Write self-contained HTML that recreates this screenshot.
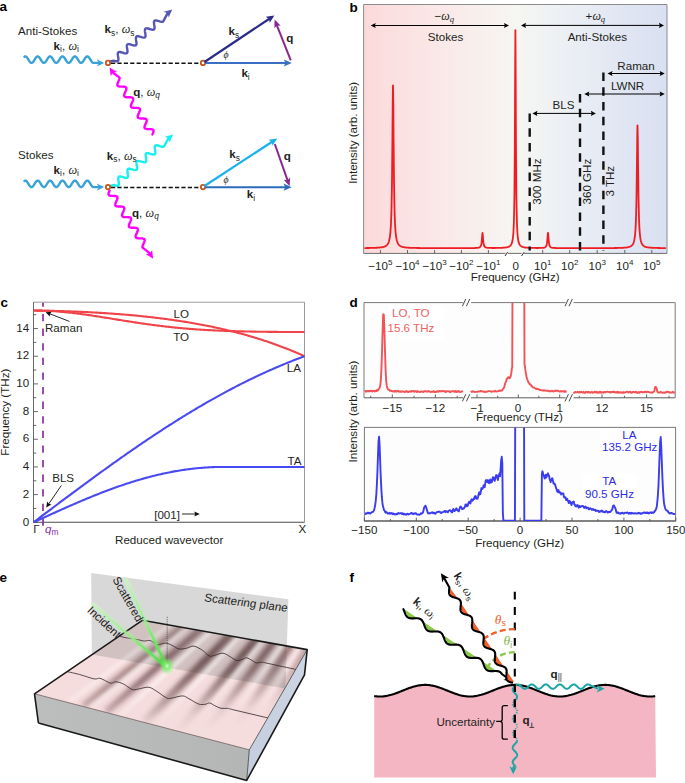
<!DOCTYPE html>
<html><head><meta charset="utf-8"><style>html,body{margin:0;padding:0;background:#fff;}svg{display:block;}</style></head>
<body><svg width="685" height="783" viewBox="0 0 685 783">
<text x="-0.6" y="11.3" font-family="Liberation Sans, sans-serif" font-size="13.5" text-anchor="start" font-weight="bold" font-style="normal" fill="#000" >a</text>
<text x="18" y="34.7" font-family="Liberation Sans, sans-serif" font-size="11.6" text-anchor="start" font-weight="normal" font-style="normal" fill="#231f20" >Anti-Stokes</text>
<path d="M24.4,56.73 L24.8,56.5 L25.2,56.4 L25.6,56.44 L26,56.6 L26.4,56.89 L26.8,57.29 L27.2,57.79 L27.6,58.37 L28,59 L28.4,59.65 L28.8,60.3 L29.2,60.93 L29.6,61.51 L30,62.01 L30.4,62.41 L30.8,62.7 L31.2,62.86 L31.6,62.9 L32,62.8 L32.4,62.57 L32.8,62.22 L33.2,61.77 L33.6,61.23 L34,60.62 L34.4,59.98 L34.8,59.32 L35.2,58.68 L35.6,58.07 L36,57.53 L36.4,57.08 L36.8,56.73 L37.2,56.5 L37.6,56.4 L38,56.44 L38.4,56.6 L38.8,56.89 L39.2,57.29 L39.6,57.79 L40,58.37 L40.4,59 L40.8,59.65 L41.2,60.3 L41.6,60.93 L42,61.51 L42.4,62.01 L42.8,62.41 L43.2,62.7 L43.6,62.86 L44,62.9 L44.4,62.8 L44.8,62.57 L45.2,62.22 L45.6,61.77 L46,61.23 L46.4,60.62 L46.8,59.98 L47.2,59.32 L47.6,58.68 L48,58.07 L48.4,57.53 L48.8,57.08 L49.2,56.73 L49.6,56.5 L50,56.4 L50.4,56.44 L50.8,56.6 L51.2,56.89 L51.6,57.29 L52,57.79 L52.4,58.37 L52.8,59 L53.2,59.65 L53.6,60.3 L54,60.93 L54.4,61.51 L54.8,62.01 L55.2,62.41 L55.6,62.7 L56,62.86 L56.4,62.9 L56.8,62.8 L57.2,62.57 L57.6,62.22 L58,61.77 L58.4,61.23 L58.8,60.62 L59.2,59.98 L59.6,59.32 L60,58.68 L60.4,58.07 L60.8,57.53 L61.2,57.08 L61.6,56.73 L62,56.5 L62.4,56.4 L62.8,56.44 L63.2,56.6 L63.6,56.89 L64,57.29 L64.4,57.79 L64.8,58.37 L65.2,59 L65.6,59.65 L66,60.3 L66.4,60.93 L66.8,61.51 L67.2,62.01 L67.6,62.41 L68,62.7 L68.4,62.86 L68.8,62.9 L69.2,62.8 L69.6,62.57 L70,62.22 L70.4,61.77 L70.8,61.23 L71.2,60.62 L71.6,59.98 L72,59.32 L72.4,58.68 L72.8,58.07 L73.2,57.53 L73.6,57.08 L74,56.73 L74.4,56.5 L74.8,56.4 L75.2,56.44 L75.6,56.6 L76,56.89 L76.4,57.29 L76.8,57.79 L77.2,58.37 L77.6,59 L78,59.65 L78.4,60.3 L78.8,60.93 L79.2,61.51 L79.6,62.01 L80,62.41 L80.4,62.7 L80.8,62.86 L81.2,62.9 L81.6,62.8 L82,62.57 L82.4,62.22 L82.8,61.77 L83.2,61.23 L83.6,60.62 L84,59.98 L84.4,59.32 L84.8,58.68 L85.2,58.07 L85.6,57.53 L86,57.08 L86.4,56.73 L86.8,56.5 L87.2,56.4 L87.6,56.44 L88,56.6 L88.4,56.89 L88.8,57.29 L89.2,57.79 L89.6,58.37 L90,59 L90.4,59.65 L90.8,60.3 L91.2,60.93 L91.6,61.51 L92,62.01 L92.4,62.41 L92.8,62.7 L93.2,62.86 L98.5,62.9" fill="none" stroke="#39a2d6" stroke-width="2.4" stroke-linejoin="round" stroke-linecap="round"/>
<path d="M104.2,62.9 L96.7,66.6 L98.95,62.9 L96.7,59.2 Z" fill="#39a2d6"/>
<text x="53.6" y="50" font-family="Liberation Sans, sans-serif" font-size="11.6" fill="#231f20"><tspan font-weight="bold">k</tspan><tspan font-size="8.4" dy="2.2">i</tspan><tspan dy="-2.2">, </tspan><tspan font-family="Liberation Serif, serif" font-style="italic" font-size="12.18">ω</tspan><tspan font-size="8.352" dy="2.2">i</tspan></text>
<path d="M110.4,61.4 L113.6,60.6 L114.5,60.88 L115.37,61.11 L116.17,61.26 L116.87,61.31 L117.45,61.21 L117.9,60.96 L118.21,60.55 L118.38,59.99 L118.43,59.29 L118.39,58.48 L118.27,57.59 L118.12,56.65 L117.97,55.72 L117.85,54.83 L117.81,54.01 L117.86,53.31 L118.03,52.75 L118.34,52.34 L118.78,52.09 L119.36,52 L120.06,52.04 L120.86,52.2 L121.73,52.43 L122.64,52.7 L123.54,52.98 L124.41,53.21 L125.21,53.37 L125.91,53.41 L126.49,53.31 L126.94,53.07 L127.24,52.66 L127.42,52.09 L127.47,51.39 L127.42,50.58 L127.31,49.69 L127.15,48.76 L127,47.82 L126.89,46.93 L126.84,46.12 L126.89,45.42 L127.07,44.86 L127.37,44.45 L127.82,44.2 L128.4,44.1 L129.1,44.15 L129.9,44.3 L130.77,44.53 L131.67,44.81 L132.58,45.08 L133.45,45.32 L134.25,45.47 L134.95,45.51 L135.53,45.42 L135.97,45.17 L136.28,44.76 L136.45,44.2 L136.5,43.5 L136.46,42.69 L136.34,41.79 L136.19,40.86 L136.04,39.93 L135.92,39.04 L135.88,38.22 L135.93,37.52 L136.1,36.96 L136.41,36.55 L136.86,36.3 L137.44,36.21 L138.14,36.25 L138.94,36.4 L139.81,36.64 L140.71,36.91 L141.61,37.19 L142.48,37.42 L143.28,37.58 L143.98,37.62 L144.56,37.52 L145.01,37.27 L145.32,36.87 L145.49,36.3 L145.54,35.6 L145.5,34.79 L145.38,33.9 L145.23,32.97 L145.08,32.03 L144.96,31.14 L144.92,30.33 L144.97,29.63 L145.14,29.07 L145.45,28.66 L145.89,28.41 L146.47,28.31 L147.17,28.35 L147.97,28.51 L148.84,28.74 L149.75,29.02 L150.65,29.29 L151.52,29.53 L152.32,29.68 L153.02,29.72 L153.6,29.63 L154.05,29.38 L154.35,28.97 L154.53,28.41 L154.58,27.71 L154.53,26.9 L154.42,26 L154.26,25.07 L154.11,24.14 L154,23.25 L153.95,22.43 L154,21.73 L154.18,21.17 L154.48,20.76 L154.93,20.51 L155.51,20.42 L156.21,20.46 L157.01,20.61 L157.88,20.85 L158.78,21.12 L159.69,21.4 L160.56,21.63 L161.36,21.79 L162.06,21.83 L162.64,21.73 L163.08,21.48 L163.39,21.07 L167.38,13.61" fill="none" stroke="#5656b4" stroke-width="2.4" stroke-linejoin="round" stroke-linecap="round"/><path d="M172.2,9.4 L168.68,17.53 L167.68,13.35 L163.68,11.8 Z" fill="#5656b4"/>
<text x="104.6" y="33.4" font-family="Liberation Sans, sans-serif" font-size="11.6" fill="#231f20"><tspan font-weight="bold">k</tspan><tspan font-size="8.4" dy="2.2">s</tspan><tspan dy="-2.2">, </tspan><tspan font-family="Liberation Serif, serif" font-style="italic" font-size="12.18">ω</tspan><tspan font-size="8.352" dy="2.2">s</tspan></text>
<path d="M152.4,134.4 L152.78,133.57 L153.11,132.76 L153.37,132 L153.52,131.31 L153.53,130.71 L153.39,130.21 L153.09,129.81 L152.63,129.51 L152.02,129.3 L151.29,129.18 L150.45,129.12 L149.56,129.09 L148.64,129.09 L147.74,129.07 L146.89,129.02 L146.13,128.91 L145.5,128.72 L145.01,128.44 L144.67,128.06 L144.5,127.58 L144.48,127 L144.61,126.32 L144.85,125.58 L145.17,124.78 L145.54,123.95 L145.92,123.11 L146.27,122.3 L146.54,121.53 L146.72,120.83 L146.76,120.21 L146.65,119.68 L146.38,119.26 L145.95,118.94 L145.37,118.72 L144.66,118.58 L143.84,118.51 L142.96,118.48 L142.04,118.47 L141.13,118.46 L140.27,118.42 L139.49,118.32 L138.83,118.15 L138.31,117.89 L137.94,117.53 L137.74,117.07 L137.69,116.5 L137.79,115.85 L138.01,115.11 L138.32,114.32 L138.68,113.5 L139.06,112.66 L139.42,111.84 L139.71,111.06 L139.91,110.34 L139.98,109.7 L139.9,109.16 L139.66,108.72 L139.26,108.38 L138.71,108.14 L138.03,107.98 L137.23,107.9 L136.36,107.86 L135.44,107.85 L134.53,107.84 L133.65,107.81 L132.86,107.73 L132.17,107.57 L131.62,107.33 L131.22,106.99 L130.99,106.55 L130.91,106 L130.98,105.37 L131.17,104.65 L131.47,103.87 L131.82,103.05 L132.2,102.21 L132.57,101.38 L132.88,100.59 L133.09,99.86 L133.19,99.21 L133.14,98.64 L132.94,98.18 L132.57,97.82 L132.05,97.56 L131.39,97.39 L130.61,97.29 L129.75,97.25 L128.84,97.24 L127.93,97.23 L127.04,97.2 L126.23,97.13 L125.52,96.99 L124.94,96.77 L124.51,96.45 L124.24,96.03 L124.13,95.5 L124.17,94.88 L124.34,94.18 L124.62,93.41 L124.97,92.59 L125.34,91.76 L125.71,90.93 L126.04,90.13 L126.28,89.38 L126.4,88.71 L126.38,88.13 L126.21,87.65 L125.88,87.27 L125.39,86.99 L124.75,86.8 L123.99,86.69 L123.15,86.64 L122.24,86.62 L121.33,86.61 L120.43,86.59 L119.6,86.53 L118.86,86.41 L118.26,86.2 L117.8,85.9 L117.49,85.5 L117.35,85 L117.37,84.4 L117.52,83.71 L117.77,82.95 L118.11,82.14 L118.48,81.31 L118.86,80.47 L119.2,79.67 L119.45,78.91 L119.6,78.22 L119.62,77.62 L113.05,72.79" fill="none" stroke="#ff00ff" stroke-width="2.4" stroke-linejoin="round" stroke-linecap="round"/><path d="M109.6,67.4 L117.11,72.1 L112.83,72.46 L110.7,76.19 Z" fill="#ff00ff"/>
<text x="133.2" y="95.6" font-family="Liberation Sans, sans-serif" font-size="11.6" fill="#231f20"><tspan font-weight="bold">q</tspan><tspan>, </tspan><tspan font-family="Liberation Serif, serif" font-style="italic" font-size="12.18">ω</tspan><tspan font-size="8.352" dy="2.2"><tspan font-style='italic'>q</tspan></tspan></text>
<line x1="111" y1="63.3" x2="200" y2="63.3" stroke="#111" stroke-width="1.5" stroke-dasharray="4.2,2.2"/>
<circle cx="108.0" cy="62.9" r="2.2" fill="#fff" stroke="#c4561a" stroke-width="1.8"/>
<circle cx="203.0" cy="62.9" r="2.2" fill="#fff" stroke="#c4561a" stroke-width="1.8"/>
<text x="18" y="158.8" font-family="Liberation Sans, sans-serif" font-size="11.6" text-anchor="start" font-weight="normal" font-style="normal" fill="#231f20" >Stokes</text>
<path d="M24.4,180.93 L24.8,180.7 L25.2,180.6 L25.6,180.64 L26,180.8 L26.4,181.09 L26.8,181.49 L27.2,181.99 L27.6,182.57 L28,183.2 L28.4,183.85 L28.8,184.5 L29.2,185.13 L29.6,185.71 L30,186.21 L30.4,186.61 L30.8,186.9 L31.2,187.06 L31.6,187.1 L32,187 L32.4,186.77 L32.8,186.42 L33.2,185.97 L33.6,185.43 L34,184.82 L34.4,184.18 L34.8,183.52 L35.2,182.88 L35.6,182.27 L36,181.73 L36.4,181.28 L36.8,180.93 L37.2,180.7 L37.6,180.6 L38,180.64 L38.4,180.8 L38.8,181.09 L39.2,181.49 L39.6,181.99 L40,182.57 L40.4,183.2 L40.8,183.85 L41.2,184.5 L41.6,185.13 L42,185.71 L42.4,186.21 L42.8,186.61 L43.2,186.9 L43.6,187.06 L44,187.1 L44.4,187 L44.8,186.77 L45.2,186.42 L45.6,185.97 L46,185.43 L46.4,184.82 L46.8,184.18 L47.2,183.52 L47.6,182.88 L48,182.27 L48.4,181.73 L48.8,181.28 L49.2,180.93 L49.6,180.7 L50,180.6 L50.4,180.64 L50.8,180.8 L51.2,181.09 L51.6,181.49 L52,181.99 L52.4,182.57 L52.8,183.2 L53.2,183.85 L53.6,184.5 L54,185.13 L54.4,185.71 L54.8,186.21 L55.2,186.61 L55.6,186.9 L56,187.06 L56.4,187.1 L56.8,187 L57.2,186.77 L57.6,186.42 L58,185.97 L58.4,185.43 L58.8,184.82 L59.2,184.18 L59.6,183.52 L60,182.88 L60.4,182.27 L60.8,181.73 L61.2,181.28 L61.6,180.93 L62,180.7 L62.4,180.6 L62.8,180.64 L63.2,180.8 L63.6,181.09 L64,181.49 L64.4,181.99 L64.8,182.57 L65.2,183.2 L65.6,183.85 L66,184.5 L66.4,185.13 L66.8,185.71 L67.2,186.21 L67.6,186.61 L68,186.9 L68.4,187.06 L68.8,187.1 L69.2,187 L69.6,186.77 L70,186.42 L70.4,185.97 L70.8,185.43 L71.2,184.82 L71.6,184.18 L72,183.52 L72.4,182.88 L72.8,182.27 L73.2,181.73 L73.6,181.28 L74,180.93 L74.4,180.7 L74.8,180.6 L75.2,180.64 L75.6,180.8 L76,181.09 L76.4,181.49 L76.8,181.99 L77.2,182.57 L77.6,183.2 L78,183.85 L78.4,184.5 L78.8,185.13 L79.2,185.71 L79.6,186.21 L80,186.61 L80.4,186.9 L80.8,187.06 L81.2,187.1 L81.6,187 L82,186.77 L82.4,186.42 L82.8,185.97 L83.2,185.43 L83.6,184.82 L84,184.18 L84.4,183.52 L84.8,182.88 L85.2,182.27 L85.6,181.73 L86,181.28 L86.4,180.93 L86.8,180.7 L87.2,180.6 L87.6,180.64 L88,180.8 L88.4,181.09 L88.8,181.49 L89.2,181.99 L89.6,182.57 L90,183.2 L90.4,183.85 L90.8,184.5 L91.2,185.13 L91.6,185.71 L92,186.21 L92.4,186.61 L92.8,186.9 L93.2,187.06 L98.5,187.1" fill="none" stroke="#39a2d6" stroke-width="2.4" stroke-linejoin="round" stroke-linecap="round"/>
<path d="M104.2,187.1 L96.7,190.8 L98.95,187.1 L96.7,183.4 Z" fill="#39a2d6"/>
<text x="53.6" y="174.2" font-family="Liberation Sans, sans-serif" font-size="11.6" fill="#231f20"><tspan font-weight="bold">k</tspan><tspan font-size="8.4" dy="2.2">i</tspan><tspan dy="-2.2">, </tspan><tspan font-family="Liberation Serif, serif" font-style="italic" font-size="12.18">ω</tspan><tspan font-size="8.352" dy="2.2">i</tspan></text>
<path d="M110.4,185.8 L114,185 L114.9,185.29 L115.77,185.53 L116.56,185.69 L117.26,185.74 L117.85,185.65 L118.29,185.41 L118.61,185 L118.78,184.44 L118.84,183.74 L118.81,182.93 L118.7,182.04 L118.56,181.1 L118.42,180.17 L118.31,179.27 L118.28,178.46 L118.34,177.76 L118.52,177.2 L118.83,176.8 L119.28,176.55 L119.86,176.46 L120.56,176.51 L121.35,176.67 L122.22,176.92 L123.12,177.2 L124.02,177.49 L124.89,177.73 L125.69,177.89 L126.39,177.94 L126.97,177.86 L127.42,177.61 L127.73,177.21 L127.91,176.65 L127.97,175.95 L127.93,175.13 L127.82,174.24 L127.68,173.3 L127.54,172.37 L127.44,171.48 L127.4,170.66 L127.46,169.96 L127.64,169.4 L127.95,169 L128.4,168.75 L128.98,168.67 L129.68,168.71 L130.48,168.88 L131.34,169.12 L132.24,169.41 L133.15,169.69 L134.01,169.93 L134.81,170.1 L135.51,170.15 L136.09,170.06 L136.54,169.81 L136.85,169.41 L137.03,168.85 L137.09,168.15 L137.05,167.34 L136.95,166.44 L136.8,165.51 L136.66,164.57 L136.56,163.68 L136.52,162.87 L136.58,162.17 L136.76,161.61 L137.07,161.2 L137.52,160.96 L138.1,160.87 L138.8,160.92 L139.6,161.08 L140.46,161.32 L141.37,161.61 L142.27,161.89 L143.13,162.14 L143.93,162.3 L144.63,162.35 L145.21,162.26 L145.66,162.02 L145.97,161.61 L146.15,161.05 L146.21,160.35 L146.17,159.54 L146.07,158.65 L145.93,157.71 L145.79,156.78 L145.68,155.88 L145.64,155.07 L145.7,154.37 L145.88,153.81 L146.19,153.41 L146.64,153.16 L147.22,153.07 L147.92,153.12 L148.72,153.28 L149.59,153.53 L150.49,153.81 L151.39,154.1 L152.26,154.34 L153.05,154.5 L153.75,154.55 L154.33,154.46 L154.78,154.22 L155.09,153.81 L155.27,153.25 L155.33,152.56 L155.3,151.74 L155.19,150.85 L155.05,149.91 L154.91,148.98 L154.8,148.09 L154.76,147.27 L154.82,146.57 L155,146.01 L155.32,145.61 L155.76,145.36 L156.35,145.27 L157.05,145.32 L157.84,145.49 L158.71,145.73 L159.61,146.02 L160.51,146.3 L161.38,146.54 L162.17,146.71 L162.87,146.76 L163.46,146.67 L163.9,146.42 L164.22,146.02 L168.33,138.56" fill="none" stroke="#18f0f0" stroke-width="2.4" stroke-linejoin="round" stroke-linecap="round"/><path d="M173.2,134.4 L169.59,142.49 L168.64,138.3 L164.65,136.71 Z" fill="#18f0f0"/>
<text x="106.8" y="160.2" font-family="Liberation Sans, sans-serif" font-size="11.6" fill="#231f20"><tspan font-weight="bold">k</tspan><tspan font-size="8.4" dy="2.2">s</tspan><tspan dy="-2.2">, </tspan><tspan font-family="Liberation Serif, serif" font-style="italic" font-size="12.18">ω</tspan><tspan font-size="8.352" dy="2.2">s</tspan></text>
<path d="M109.6,190.6 L109.22,191.43 L108.89,192.24 L108.63,193 L108.48,193.69 L108.47,194.29 L108.61,194.79 L108.91,195.19 L109.37,195.49 L109.98,195.7 L110.72,195.82 L111.55,195.88 L112.44,195.9 L113.36,195.91 L114.26,195.93 L115.11,195.98 L115.87,196.09 L116.5,196.28 L116.99,196.55 L117.33,196.93 L117.5,197.42 L117.52,198 L117.39,198.67 L117.16,199.42 L116.83,200.22 L116.46,201.05 L116.08,201.88 L115.74,202.7 L115.46,203.47 L115.29,204.17 L115.25,204.79 L115.36,205.32 L115.63,205.74 L116.06,206.06 L116.64,206.28 L117.35,206.42 L118.16,206.49 L119.05,206.52 L119.96,206.53 L120.87,206.54 L121.73,206.58 L122.51,206.68 L123.17,206.85 L123.69,207.11 L124.06,207.47 L124.27,207.93 L124.31,208.49 L124.22,209.15 L124,209.88 L123.69,210.67 L123.33,211.5 L122.95,212.33 L122.59,213.15 L122.3,213.94 L122.1,214.65 L122.03,215.29 L122.11,215.84 L122.35,216.28 L122.74,216.62 L123.3,216.86 L123.98,217.01 L124.78,217.1 L125.65,217.13 L126.57,217.14 L127.48,217.15 L128.35,217.18 L129.15,217.27 L129.84,217.42 L130.39,217.66 L130.79,218 L131.02,218.44 L131.1,218.99 L131.03,219.63 L130.84,220.34 L130.54,221.13 L130.19,221.95 L129.81,222.78 L129.44,223.61 L129.14,224.4 L128.92,225.13 L128.82,225.79 L128.87,226.35 L129.07,226.81 L129.44,227.17 L129.96,227.43 L130.62,227.6 L131.4,227.7 L132.26,227.74 L133.17,227.76 L134.09,227.76 L134.97,227.79 L135.79,227.86 L136.5,228 L137.08,228.22 L137.51,228.54 L137.78,228.96 L137.89,229.49 L137.84,230.11 L137.67,230.81 L137.4,231.58 L137.05,232.4 L136.67,233.23 L136.3,234.06 L135.98,234.86 L135.74,235.61 L135.62,236.28 L135.63,236.86 L135.81,237.35 L136.14,237.73 L136.63,238 L137.27,238.19 L138.02,238.3 L138.87,238.35 L139.77,238.37 L140.69,238.38 L141.59,238.4 L142.42,238.46 L143.15,238.58 L143.76,238.79 L144.22,239.09 L144.52,239.49 L144.66,239.99 L144.65,240.59 L144.5,241.28 L144.24,242.04 L143.91,242.85 L143.53,243.68 L143.16,244.51 L142.82,245.32 L142.57,246.08 L142.42,246.77 L142.4,247.37 L149.75,253.41" fill="none" stroke="#ff00ff" stroke-width="2.4" stroke-linejoin="round" stroke-linecap="round"/><path d="M153.2,258.8 L145.69,254.11 L149.97,253.74 L152.09,250.01 Z" fill="#ff00ff"/>
<text x="132.0" y="216.8" font-family="Liberation Sans, sans-serif" font-size="11.6" fill="#231f20"><tspan font-weight="bold">q</tspan><tspan>, </tspan><tspan font-family="Liberation Serif, serif" font-style="italic" font-size="12.18">ω</tspan><tspan font-size="8.352" dy="2.2"><tspan font-style='italic'>q</tspan></tspan></text>
<line x1="111" y1="187.5" x2="200" y2="187.5" stroke="#111" stroke-width="1.5" stroke-dasharray="4.2,2.2"/>
<circle cx="108.0" cy="187.1" r="2.2" fill="#fff" stroke="#c4561a" stroke-width="1.8"/>
<circle cx="203.0" cy="187.1" r="2.2" fill="#fff" stroke="#c4561a" stroke-width="1.8"/>
<line x1="205" y1="63" x2="286.2" y2="63" stroke="#3b6fc6" stroke-width="2.0"/><path d="M291.8,63 L283.8,66.6 L285.4,63 L283.8,59.4 Z" fill="#3b6fc6"/>
<line x1="204.5" y1="62" x2="269.74" y2="18.51" stroke="#2b2b8a" stroke-width="2.2"/><path d="M274.4,15.4 L269.74,22.83 L269.07,18.95 L265.75,16.84 Z" fill="#2b2b8a"/>
<line x1="290.8" y1="60.4" x2="276.67" y2="24.8" stroke="#8a288e" stroke-width="2.0"/><path d="M274.6,19.6 L280.71,25.78 L276.96,25.55 L274.39,28.29 Z" fill="#8a288e"/>
<text x="228.6" y="35" font-family="Liberation Sans, sans-serif" font-size="11.6" fill="#231f20"><tspan font-weight="bold">k</tspan><tspan font-size="8.4" dy="2.6">s</tspan></text>
<text x="241.4" y="77" font-family="Liberation Sans, sans-serif" font-size="11.6" fill="#231f20"><tspan font-weight="bold">k</tspan><tspan font-size="8.4" dy="2.6">i</tspan></text>
<text x="286.2" y="41.9" font-family="Liberation Sans, sans-serif" font-size="11.6" text-anchor="start" font-weight="bold" font-style="normal" fill="#231f20" >q</text>
<text x="223.4" y="58.4" font-family="Liberation Serif, serif" font-size="9.8" text-anchor="start" font-weight="normal" font-style="italic" fill="#231f20" >ϕ</text>
<line x1="205" y1="187.2" x2="286" y2="187.2" stroke="#2a6cbc" stroke-width="2.0"/><path d="M291.6,187.2 L283.6,190.8 L285.2,187.2 L283.6,183.6 Z" fill="#2a6cbc"/>
<line x1="204.5" y1="186" x2="272.51" y2="141.47" stroke="#18b0ee" stroke-width="2.2"/><path d="M277.2,138.4 L272.48,145.79 L271.85,141.91 L268.54,139.77 Z" fill="#18b0ee"/>
<line x1="274.8" y1="144" x2="287.75" y2="180.92" stroke="#8a288e" stroke-width="2.0"/><path d="M289.6,186.2 L283.74,179.78 L287.48,180.16 L290.16,177.53 Z" fill="#8a288e"/>
<text x="229.2" y="158.2" font-family="Liberation Sans, sans-serif" font-size="11.6" fill="#231f20"><tspan font-weight="bold">k</tspan><tspan font-size="8.4" dy="2.6">s</tspan></text>
<text x="246.8" y="198.4" font-family="Liberation Sans, sans-serif" font-size="11.6" fill="#231f20"><tspan font-weight="bold">k</tspan><tspan font-size="8.4" dy="2.6">i</tspan></text>
<text x="283.8" y="159.8" font-family="Liberation Sans, sans-serif" font-size="11.6" text-anchor="start" font-weight="bold" font-style="normal" fill="#231f20" >q</text>
<text x="223.4" y="182.6" font-family="Liberation Serif, serif" font-size="9.8" text-anchor="start" font-weight="normal" font-style="italic" fill="#231f20" >ϕ</text>
<text x="349.4" y="11.8" font-family="Liberation Sans, sans-serif" font-size="13.5" text-anchor="start" font-weight="bold" font-style="normal" fill="#000" >b</text>
<defs><linearGradient id="gb" x1="0" y1="0" x2="1" y2="0"><stop offset="0" stop-color="#fcd9da"/><stop offset="0.1" stop-color="#fbe0e0"/><stop offset="0.3" stop-color="#f9ebea"/><stop offset="0.5" stop-color="#f6f6f2"/><stop offset="0.7" stop-color="#eaeef4"/><stop offset="0.85" stop-color="#e1e6f3"/><stop offset="1" stop-color="#d9e0f1"/></linearGradient></defs>
<rect x="363.6" y="4.5" width="303.4" height="248.9" fill="url(#gb)"/>
<path d="M364.4,248.05 L364.9,248.05 L365.4,248.04 L365.9,248.04 L366.4,248.03 L366.9,248.02 L367.4,248.02 L367.9,248.01 L368.4,248 L368.9,247.99 L369.4,247.98 L369.9,247.97 L370.4,247.96 L370.9,247.95 L371.4,247.94 L371.9,247.93 L372.4,247.92 L372.9,247.9 L373.4,247.89 L373.9,247.87 L374.4,247.86 L374.9,247.84 L375.4,247.82 L375.9,247.79 L376.4,247.77 L376.9,247.74 L377.4,247.71 L377.9,247.68 L378.4,247.64 L378.9,247.6 L379.4,247.56 L379.9,247.51 L380.4,247.46 L380.9,247.39 L381.4,247.32 L381.9,247.24 L382.4,247.15 L382.9,247.05 L383.4,246.93 L383.9,246.79 L384.4,246.62 L384.9,246.42 L385.4,246.18 L385.9,245.89 L386.4,245.54 L386.9,245.09 L387.4,244.53 L387.9,243.79 L388.4,242.82 L388.9,241.48 L389.4,239.6 L389.9,236.81 L390,236.1 L390.4,232.47 L390.9,225.28 L391,223.29 L391.4,212.36 L391.5,208.62 L391.9,187.33 L392,179.91 L392.4,139.53 L392.7,103.43 L392.9,87.62 L393,85.39 L393.3,103.43 L393.4,114.91 L393.6,139.53 L393.9,171.44 L394,179.91 L394.4,204.34 L394.5,208.62 L394.9,221.04 L395,223.29 L395.4,230.05 L395.9,235.31 L396,236.09 L396.4,238.62 L396.9,240.81 L397.4,242.34 L397.9,243.44 L398.4,244.26 L398.9,244.88 L399.4,245.37 L399.9,245.76 L400.4,246.07 L400.9,246.33 L401.4,246.54 L401.9,246.72 L402.4,246.87 L402.9,247 L403.4,247.11 L403.9,247.21 L404.4,247.29 L404.9,247.36 L405.4,247.43 L405.9,247.49 L406.4,247.54 L406.9,247.58 L407.4,247.63 L407.9,247.66 L408.4,247.7 L408.9,247.73 L409.4,247.75 L409.9,247.78 L410.4,247.8 L410.9,247.82 L411.4,247.84 L411.9,247.86 L412.4,247.88 L412.9,247.89 L413.4,247.91 L413.9,247.92 L414.4,247.93 L414.9,247.94 L415.4,247.96 L415.9,247.97 L416.4,247.97 L416.9,247.98 L417.4,247.99 L417.9,248 L418.4,248.01 L418.9,248.01 L419.4,248.02 L419.9,248.03 L420.4,248.03 L420.9,248.04 L421.4,248.04 L421.9,248.05 L422.4,248.05 L422.9,248.06 L423.4,248.06 L423.9,248.06 L424.4,248.07 L424.9,248.07 L425.4,248.08 L425.9,248.08 L426.4,248.08 L426.9,248.08 L427.4,248.09 L427.9,248.09 L428.4,248.09 L428.9,248.09 L429.4,248.1 L429.9,248.1 L430.4,248.1 L430.9,248.1 L431.4,248.11 L431.9,248.11 L432.4,248.11 L432.9,248.11 L433.4,248.11 L433.9,248.11 L434.4,248.12 L434.9,248.12 L435.4,248.12 L435.9,248.12 L436.4,248.12 L436.9,248.12 L437.4,248.12 L437.9,248.12 L438.4,248.13 L438.9,248.13 L439.4,248.13 L439.9,248.13 L440.4,248.13 L440.9,248.13 L441.4,248.13 L441.9,248.13 L442.4,248.13 L442.9,248.13 L443.4,248.13 L443.9,248.13 L444.4,248.13 L444.9,248.13 L445.4,248.14 L445.9,248.14 L446.4,248.14 L446.9,248.14 L447.4,248.14 L447.9,248.14 L448.4,248.14 L448.9,248.14 L449.4,248.14 L449.9,248.14 L450.4,248.14 L450.9,248.14 L451.4,248.14 L451.9,248.14 L452.4,248.14 L452.9,248.14 L453.4,248.14 L453.9,248.14 L454.4,248.14 L454.9,248.14 L455.4,248.14 L455.9,248.14 L456.4,248.14 L456.9,248.14 L457.4,248.14 L457.9,248.14 L458.4,248.14 L458.9,248.14 L459.4,248.13 L459.9,248.13 L460.4,248.13 L460.9,248.13 L461.4,248.13 L461.9,248.13 L462.4,248.13 L462.9,248.13 L463.4,248.13 L463.9,248.13 L464.4,248.12 L464.9,248.12 L465.4,248.12 L465.9,248.12 L466.4,248.12 L466.9,248.12 L467.4,248.11 L467.9,248.11 L468.4,248.11 L468.9,248.1 L469.4,248.1 L469.9,248.1 L470.4,248.09 L470.9,248.09 L471.4,248.08 L471.9,248.08 L472.4,248.07 L472.9,248.06 L473.4,248.05 L473.9,248.04 L474.4,248.03 L474.9,248.01 L475.4,247.99 L475.9,247.97 L476.4,247.94 L476.9,247.9 L477.4,247.85 L477.9,247.79 L478.4,247.7 L478.9,247.58 L479.4,247.39 L479.5,247.34 L479.9,247.1 L480.4,246.61 L480.5,246.47 L480.9,245.68 L481,245.41 L481.4,243.74 L481.5,243.12 L481.9,239.36 L482.2,235.28 L482.4,233.22 L482.5,232.92 L482.8,235.28 L482.9,236.66 L483.1,239.35 L483.4,242.39 L483.5,243.12 L483.9,245.07 L484,245.4 L484.4,246.3 L484.5,246.45 L484.9,246.92 L485.4,247.27 L485.5,247.32 L485.9,247.49 L486.4,247.63 L486.9,247.72 L487.4,247.79 L487.9,247.84 L488.4,247.88 L488.9,247.91 L489.4,247.93 L489.9,247.95 L490.4,247.96 L490.9,247.97 L491.4,247.97 L491.9,247.98 L492.4,247.98 L492.9,247.98 L493.4,247.98 L493.9,247.98 L494.4,247.98 L494.9,247.98 L495.4,247.97 L495.9,247.97 L496.4,247.96 L496.9,247.95 L497.4,247.94 L497.9,247.94 L498.4,247.92 L498.9,247.91 L499.4,247.9 L499.9,247.88 L500.4,247.87 L500.9,247.85 L501.4,247.82 L501.9,247.8 L502.4,247.77 L502.9,247.74 L503.4,247.71 L503.9,247.67 L504.4,247.62 L504.9,247.57 L505.4,247.51 L505.9,247.44 L506.4,247.36 L506.9,247.26 L507.4,247.14 L507.9,247 L508.4,246.83 L508.9,246.62 L509.4,246.35 L509.9,246.01 L510.4,245.56 L510.9,244.96 L511.4,244.13 L511.9,242.92 L512.4,241.08 L512.9,238.11 L513.4,232.84 L513.9,222.34 L514.4,197.54 L514.8,148.63 L514.9,128.81 L515.1,80.16 L515.4,30.17 L515.7,80.16 L515.9,128.81 L516,148.63 L516.4,197.54 L516.9,222.34 L517.4,232.84 L517.9,238.11 L518.4,241.08 L518.9,242.92 L519.4,244.13 L519.9,244.96 L520.4,245.57 L520.9,246.01 L521.4,246.35 L521.9,246.62 L522.4,246.83 L522.9,247 L523.4,247.14 L523.9,247.26 L524.4,247.36 L524.9,247.44 L525.4,247.51 L525.9,247.57 L526.4,247.62 L526.9,247.67 L527.4,247.71 L527.9,247.74 L528.4,247.77 L528.9,247.8 L529.4,247.83 L529.9,247.85 L530.4,247.87 L530.9,247.88 L531.4,247.9 L531.9,247.91 L532.4,247.92 L532.9,247.94 L533.4,247.94 L533.9,247.95 L534.4,247.96 L534.9,247.97 L535.4,247.97 L535.9,247.98 L536.4,247.98 L536.9,247.98 L537.4,247.98 L537.9,247.98 L538.4,247.98 L538.9,247.97 L539.4,247.97 L539.9,247.96 L540.4,247.95 L540.9,247.93 L541.4,247.92 L541.9,247.89 L542.4,247.86 L542.9,247.81 L543.4,247.75 L543.9,247.67 L544.4,247.55 L544.9,247.36 L545,247.32 L545.4,247.08 L545.9,246.58 L546,246.44 L546.4,245.66 L546.5,245.38 L546.9,243.71 L547,243.08 L547.4,239.3 L547.7,235.19 L547.9,233.13 L548,232.82 L548.3,235.2 L548.4,236.59 L548.6,239.3 L548.9,242.36 L549,243.09 L549.4,245.07 L549.5,245.39 L549.9,246.3 L550,246.46 L550.4,246.93 L550.9,247.29 L551,247.34 L551.4,247.51 L551.9,247.65 L552.4,247.76 L552.9,247.83 L553.4,247.88 L553.9,247.92 L554.4,247.96 L554.9,247.98 L555.4,248 L555.9,248.02 L556.4,248.04 L556.9,248.05 L557.4,248.06 L557.9,248.07 L558.4,248.08 L558.9,248.08 L559.4,248.09 L559.9,248.09 L560.4,248.1 L560.9,248.1 L561.4,248.11 L561.9,248.11 L562.4,248.11 L562.9,248.12 L563.4,248.12 L563.9,248.12 L564.4,248.12 L564.9,248.12 L565.4,248.13 L565.9,248.13 L566.4,248.13 L566.9,248.13 L567.4,248.13 L567.9,248.13 L568.4,248.14 L568.9,248.14 L569.4,248.14 L569.9,248.14 L570.4,248.14 L570.9,248.14 L571.4,248.14 L571.9,248.14 L572.4,248.14 L572.9,248.14 L573.4,248.14 L573.9,248.14 L574.4,248.14 L574.9,248.14 L575.4,248.14 L575.9,248.14 L576.4,248.14 L576.9,248.15 L577.4,248.15 L577.9,248.15 L578.4,248.15 L578.9,248.15 L579.4,248.15 L579.9,248.15 L580.4,248.15 L580.9,248.15 L581.4,248.15 L581.9,248.15 L582.4,248.15 L582.9,248.15 L583.4,248.15 L583.9,248.15 L584.4,248.15 L584.9,248.14 L585.4,248.14 L585.9,248.14 L586.4,248.14 L586.9,248.14 L587.4,248.14 L587.9,248.14 L588.4,248.14 L588.9,248.14 L589.4,248.14 L589.9,248.14 L590.4,248.14 L590.9,248.14 L591.4,248.14 L591.9,248.14 L592.4,248.14 L592.9,248.14 L593.4,248.14 L593.9,248.14 L594.4,248.13 L594.9,248.13 L595.4,248.13 L595.9,248.13 L596.4,248.13 L596.9,248.13 L597.4,248.13 L597.9,248.13 L598.4,248.13 L598.9,248.12 L599.4,248.12 L599.9,248.12 L600.4,248.12 L600.9,248.12 L601.4,248.12 L601.9,248.12 L602.4,248.11 L602.9,248.11 L603.4,248.11 L603.9,248.11 L604.4,248.11 L604.9,248.1 L605.4,248.1 L605.9,248.1 L606.4,248.1 L606.9,248.09 L607.4,248.09 L607.9,248.09 L608.4,248.08 L608.9,248.08 L609.4,248.08 L609.9,248.07 L610.4,248.07 L610.9,248.06 L611.4,248.06 L611.9,248.05 L612.4,248.05 L612.9,248.04 L613.4,248.04 L613.9,248.03 L614.4,248.02 L614.9,248.02 L615.4,248.01 L615.9,248 L616.4,247.99 L616.9,247.98 L617.4,247.97 L617.9,247.96 L618.4,247.95 L618.9,247.93 L619.4,247.92 L619.9,247.9 L620.4,247.89 L620.9,247.87 L621.4,247.85 L621.9,247.83 L622.4,247.8 L622.9,247.78 L623.4,247.75 L623.9,247.71 L624.4,247.68 L624.9,247.63 L625.4,247.59 L625.9,247.53 L626.4,247.48 L626.9,247.41 L627.4,247.33 L627.9,247.24 L628.4,247.13 L628.9,247 L629.4,246.85 L629.9,246.67 L630.4,246.46 L630.9,246.19 L631.4,245.85 L631.9,245.43 L632.4,244.87 L632.9,244.14 L633.4,243.13 L633.9,241.71 L634.4,239.61 L634.5,239.07 L634.9,236.33 L635.4,230.91 L635.5,229.4 L635.9,221.16 L636,218.34 L636.4,202.28 L636.5,196.68 L636.9,166.23 L637.2,138.99 L637.4,127.07 L637.5,125.39 L637.8,138.99 L637.9,147.66 L638.1,166.23 L638.4,190.3 L638.5,196.68 L638.9,215.12 L639,218.34 L639.4,227.71 L639.5,229.41 L639.9,234.51 L640.4,238.48 L640.5,239.07 L640.9,240.97 L641.4,242.62 L641.9,243.77 L642.4,244.61 L642.9,245.22 L643.4,245.7 L643.9,246.06 L644.4,246.36 L644.9,246.59 L645.4,246.79 L645.9,246.95 L646.4,247.08 L646.9,247.2 L647.4,247.29 L647.9,247.38 L648.4,247.45 L648.9,247.51 L649.4,247.57 L649.9,247.62 L650.4,247.66 L650.9,247.7 L651.4,247.74 L651.9,247.77 L652.4,247.8 L652.9,247.82 L653.4,247.84 L653.9,247.86 L654.4,247.88 L654.9,247.9 L655.4,247.92 L655.9,247.93 L656.4,247.95 L656.9,247.96 L657.4,247.97 L657.9,247.98 L658.4,247.99 L658.9,248 L659.4,248.01 L659.9,248.02 L660.4,248.03 L660.9,248.03 L661.4,248.04 L661.9,248.05 L662.4,248.05 L662.9,248.06 L663.4,248.06 L663.9,248.07 L664.4,248.07 L664.9,248.08 L665.4,248.08 L665.9,248.08" fill="none" stroke="#ee1d23" stroke-width="1.8" stroke-linejoin="round"/>
<path d="M363.6,253.4 L363.6,4.5 L667.0,4.5 L667.0,253.4" fill="none" stroke="#8c8c8c" stroke-width="1"/>
<line x1="363.6" y1="253.4" x2="505.5" y2="253.4" stroke="#6d6d6d" stroke-width="1"/>
<line x1="508" y1="253.4" x2="521.5" y2="253.4" stroke="#6d6d6d" stroke-width="1"/>
<line x1="524" y1="253.4" x2="667.0" y2="253.4" stroke="#6d6d6d" stroke-width="1"/>
<line x1="505.0" y1="256" x2="507.6" y2="252.2" stroke="#111" stroke-width="0.9"/>
<line x1="521.5" y1="256" x2="524.1" y2="252.2" stroke="#111" stroke-width="0.9"/>
<line x1="380.4" y1="253.4" x2="380.4" y2="250" stroke="#555" stroke-width="0.9"/>
<line x1="407.5" y1="253.4" x2="407.5" y2="250" stroke="#555" stroke-width="0.9"/>
<line x1="434.6" y1="253.4" x2="434.6" y2="250" stroke="#555" stroke-width="0.9"/>
<line x1="461.4" y1="253.4" x2="461.4" y2="250" stroke="#555" stroke-width="0.9"/>
<line x1="488.4" y1="253.4" x2="488.4" y2="250" stroke="#555" stroke-width="0.9"/>
<line x1="542.7" y1="253.4" x2="542.7" y2="250" stroke="#555" stroke-width="0.9"/>
<line x1="569.7" y1="253.4" x2="569.7" y2="250" stroke="#555" stroke-width="0.9"/>
<line x1="597.2" y1="253.4" x2="597.2" y2="250" stroke="#555" stroke-width="0.9"/>
<line x1="624.8" y1="253.4" x2="624.8" y2="250" stroke="#555" stroke-width="0.9"/>
<line x1="651.8" y1="253.4" x2="651.8" y2="250" stroke="#555" stroke-width="0.9"/>
<text x="380.4" y="270" font-family="Liberation Sans, sans-serif" font-size="11.6" text-anchor="middle" fill="#231f20">−10<tspan font-size="8" dy="-4.6">5</tspan></text>
<text x="407.5" y="270" font-family="Liberation Sans, sans-serif" font-size="11.6" text-anchor="middle" fill="#231f20">−10<tspan font-size="8" dy="-4.6">4</tspan></text>
<text x="434.6" y="270" font-family="Liberation Sans, sans-serif" font-size="11.6" text-anchor="middle" fill="#231f20">−10<tspan font-size="8" dy="-4.6">3</tspan></text>
<text x="461.4" y="270" font-family="Liberation Sans, sans-serif" font-size="11.6" text-anchor="middle" fill="#231f20">−10<tspan font-size="8" dy="-4.6">2</tspan></text>
<text x="488.4" y="270" font-family="Liberation Sans, sans-serif" font-size="11.6" text-anchor="middle" fill="#231f20">−10<tspan font-size="8" dy="-4.6">1</tspan></text>
<text x="515.8" y="270" font-family="Liberation Sans, sans-serif" font-size="11.6" text-anchor="middle" font-weight="normal" font-style="normal" fill="#231f20" >0</text>
<text x="542.7" y="270" font-family="Liberation Sans, sans-serif" font-size="11.6" text-anchor="middle" fill="#231f20">10<tspan font-size="8" dy="-4.6">1</tspan></text>
<text x="569.7" y="270" font-family="Liberation Sans, sans-serif" font-size="11.6" text-anchor="middle" fill="#231f20">10<tspan font-size="8" dy="-4.6">2</tspan></text>
<text x="597.2" y="270" font-family="Liberation Sans, sans-serif" font-size="11.6" text-anchor="middle" fill="#231f20">10<tspan font-size="8" dy="-4.6">3</tspan></text>
<text x="624.8" y="270" font-family="Liberation Sans, sans-serif" font-size="11.6" text-anchor="middle" fill="#231f20">10<tspan font-size="8" dy="-4.6">4</tspan></text>
<text x="651.8" y="270" font-family="Liberation Sans, sans-serif" font-size="11.6" text-anchor="middle" fill="#231f20">10<tspan font-size="8" dy="-4.6">5</tspan></text>
<text x="515.2" y="281.3" font-family="Liberation Sans, sans-serif" font-size="11.6" text-anchor="middle" font-weight="normal" font-style="normal" fill="#231f20" >Frequency (GHz)</text>
<text x="357.4" y="132.8" font-family="Liberation Sans, sans-serif" font-size="11.6" text-anchor="middle" font-weight="normal" font-style="normal" fill="#231f20" transform="rotate(-90 357.4 132.8)">Intensity (arb. units)</text>
<line x1="529.7" y1="113.4" x2="529.7" y2="250.5" stroke="#111" stroke-width="2.4" stroke-dasharray="8.5,6.3"/>
<line x1="580.0" y1="94.0" x2="580.0" y2="250.5" stroke="#111" stroke-width="2.4" stroke-dasharray="8.5,6.3"/>
<line x1="603.4" y1="72.4" x2="603.4" y2="250.5" stroke="#111" stroke-width="2.4" stroke-dasharray="8.5,6.3"/>
<line x1="373.7" y1="25.5" x2="506" y2="25.5" stroke="#000" stroke-width="1"/><path d="M509,25.5 L504,28.1 L504.75,25.5 L504,22.9 Z" fill="#000"/><path d="M370.7,25.5 L375.7,22.9 L374.95,25.5 L375.7,28.1 Z" fill="#000"/>
<line x1="524" y1="25.4" x2="661" y2="25.4" stroke="#000" stroke-width="1"/><path d="M664,25.4 L659,28 L659.75,25.4 L659,22.8 Z" fill="#000"/><path d="M521,25.4 L526,22.8 L525.25,25.4 L526,28 Z" fill="#000"/>
<line x1="610.5" y1="73.5" x2="661.7" y2="73.5" stroke="#000" stroke-width="1"/><path d="M664.7,73.5 L659.7,76.1 L660.45,73.5 L659.7,70.9 Z" fill="#000"/><path d="M607.5,73.5 L612.5,70.9 L611.75,73.5 L612.5,76.1 Z" fill="#000"/>
<line x1="587.3" y1="94.0" x2="661.7" y2="94.0" stroke="#000" stroke-width="1"/><path d="M664.7,94 L659.7,96.6 L660.45,94 L659.7,91.4 Z" fill="#000"/><path d="M584.3,94 L589.3,91.4 L588.55,94 L589.3,96.6 Z" fill="#000"/>
<line x1="535.4" y1="113.4" x2="592.9" y2="113.4" stroke="#000" stroke-width="1"/><path d="M595.9,113.4 L590.9,116 L591.65,113.4 L590.9,110.8 Z" fill="#000"/><path d="M532.4,113.4 L537.4,110.8 L536.65,113.4 L537.4,116 Z" fill="#000"/>
<text x="434.4" y="19.6" font-family="Liberation Sans, sans-serif" font-size="11.6" fill="#231f20">−<tspan font-family="Liberation Serif, serif" font-style="italic" font-size="12">ω</tspan><tspan font-family="Liberation Serif, serif" font-style="italic" font-size="8.6" dy="2.6">q</tspan></text>
<text x="585.6" y="19.6" font-family="Liberation Sans, sans-serif" font-size="11.6" fill="#231f20">+<tspan font-family="Liberation Serif, serif" font-style="italic" font-size="12">ω</tspan><tspan font-family="Liberation Serif, serif" font-style="italic" font-size="8.6" dy="2.6">q</tspan></text>
<text x="445.6" y="41.2" font-family="Liberation Sans, sans-serif" font-size="11.6" text-anchor="middle" font-weight="normal" font-style="normal" fill="#231f20" >Stokes</text>
<text x="597.3" y="41" font-family="Liberation Sans, sans-serif" font-size="11.6" text-anchor="middle" font-weight="normal" font-style="normal" fill="#231f20" >Anti-Stokes</text>
<text x="636" y="69.6" font-family="Liberation Sans, sans-serif" font-size="11.6" text-anchor="middle" font-weight="normal" font-style="normal" fill="#231f20" >Raman</text>
<text x="627.6" y="90.4" font-family="Liberation Sans, sans-serif" font-size="11.6" text-anchor="middle" font-weight="normal" font-style="normal" fill="#231f20" >LWNR</text>
<text x="563.5" y="109.4" font-family="Liberation Sans, sans-serif" font-size="11.6" text-anchor="middle" font-weight="normal" font-style="normal" fill="#231f20" >BLS</text>
<text x="541.4" y="181.6" font-family="Liberation Sans, sans-serif" font-size="11.6" text-anchor="middle" font-weight="normal" font-style="normal" fill="#231f20" transform="rotate(-90 541.4 181.6)">300 MHz</text>
<text x="591.4" y="181.6" font-family="Liberation Sans, sans-serif" font-size="11.6" text-anchor="middle" font-weight="normal" font-style="normal" fill="#231f20" transform="rotate(-90 591.4 181.6)">360 GHz</text>
<text x="614.2" y="181.2" font-family="Liberation Sans, sans-serif" font-size="11.6" text-anchor="middle" font-weight="normal" font-style="normal" fill="#231f20" transform="rotate(-90 614.2 181.2)">3 THz</text>
<text x="0.4" y="306.6" font-family="Liberation Sans, sans-serif" font-size="13.5" text-anchor="start" font-weight="bold" font-style="normal" fill="#000" >c</text>
<path d="M33.5,522.3 L33.5,302.2 L304.5,302.2 L304.5,522.3 Z" fill="none" stroke="#9a9a9a" stroke-width="1"/>
<line x1="33.5" y1="522.3" x2="304.5" y2="522.3" stroke="#6a6a6a" stroke-width="1"/>
<line x1="33.5" y1="302.2" x2="33.5" y2="522.3" stroke="#6a6a6a" stroke-width="1"/>
<line x1="33.5" y1="522.3" x2="37.9" y2="522.3" stroke="#555" stroke-width="0.9"/>
<text x="29.2" y="525.5" font-family="Liberation Sans, sans-serif" font-size="11.6" text-anchor="end" font-weight="normal" font-style="normal" fill="#231f20" >0</text>
<line x1="33.5" y1="508.46" x2="36.3" y2="508.46" stroke="#555" stroke-width="0.9"/>
<line x1="33.5" y1="494.62" x2="37.9" y2="494.62" stroke="#555" stroke-width="0.9"/>
<text x="29.2" y="497.82" font-family="Liberation Sans, sans-serif" font-size="11.6" text-anchor="end" font-weight="normal" font-style="normal" fill="#231f20" >2</text>
<line x1="33.5" y1="480.78" x2="36.3" y2="480.78" stroke="#555" stroke-width="0.9"/>
<line x1="33.5" y1="466.94" x2="37.9" y2="466.94" stroke="#555" stroke-width="0.9"/>
<text x="29.2" y="470.14" font-family="Liberation Sans, sans-serif" font-size="11.6" text-anchor="end" font-weight="normal" font-style="normal" fill="#231f20" >4</text>
<line x1="33.5" y1="453.1" x2="36.3" y2="453.1" stroke="#555" stroke-width="0.9"/>
<line x1="33.5" y1="439.26" x2="37.9" y2="439.26" stroke="#555" stroke-width="0.9"/>
<text x="29.2" y="442.46" font-family="Liberation Sans, sans-serif" font-size="11.6" text-anchor="end" font-weight="normal" font-style="normal" fill="#231f20" >6</text>
<line x1="33.5" y1="425.42" x2="36.3" y2="425.42" stroke="#555" stroke-width="0.9"/>
<line x1="33.5" y1="411.58" x2="37.9" y2="411.58" stroke="#555" stroke-width="0.9"/>
<text x="29.2" y="414.78" font-family="Liberation Sans, sans-serif" font-size="11.6" text-anchor="end" font-weight="normal" font-style="normal" fill="#231f20" >8</text>
<line x1="33.5" y1="397.74" x2="36.3" y2="397.74" stroke="#555" stroke-width="0.9"/>
<line x1="33.5" y1="383.9" x2="37.9" y2="383.9" stroke="#555" stroke-width="0.9"/>
<text x="29.2" y="387.1" font-family="Liberation Sans, sans-serif" font-size="11.6" text-anchor="end" font-weight="normal" font-style="normal" fill="#231f20" >10</text>
<line x1="33.5" y1="370.06" x2="36.3" y2="370.06" stroke="#555" stroke-width="0.9"/>
<line x1="33.5" y1="356.22" x2="37.9" y2="356.22" stroke="#555" stroke-width="0.9"/>
<text x="29.2" y="359.42" font-family="Liberation Sans, sans-serif" font-size="11.6" text-anchor="end" font-weight="normal" font-style="normal" fill="#231f20" >12</text>
<line x1="33.5" y1="342.38" x2="36.3" y2="342.38" stroke="#555" stroke-width="0.9"/>
<line x1="33.5" y1="328.54" x2="37.9" y2="328.54" stroke="#555" stroke-width="0.9"/>
<text x="29.2" y="331.74" font-family="Liberation Sans, sans-serif" font-size="11.6" text-anchor="end" font-weight="normal" font-style="normal" fill="#231f20" >14</text>
<line x1="33.5" y1="314.7" x2="36.3" y2="314.7" stroke="#555" stroke-width="0.9"/>
<line x1="43" y1="302.7" x2="43" y2="526" stroke="#8a2fa0" stroke-width="1.7" stroke-dasharray="7.3,7.3" stroke-dashoffset="3.3"/>
<path d="M33.5,310.55 L34.85,310.56 L36.21,310.58 L37.56,310.59 L38.92,310.61 L40.27,310.63 L41.63,310.65 L42.98,310.68 L44.34,310.7 L45.7,310.72 L47.05,310.75 L48.41,310.78 L49.76,310.81 L51.12,310.84 L52.47,310.87 L53.83,310.9 L55.18,310.93 L56.53,310.97 L57.89,311 L59.25,311.04 L60.6,311.08 L61.95,311.12 L63.31,311.16 L64.67,311.21 L66.02,311.25 L67.38,311.3 L68.73,311.34 L70.09,311.39 L71.44,311.44 L72.79,311.49 L74.15,311.55 L75.5,311.6 L76.86,311.66 L78.22,311.71 L79.57,311.77 L80.92,311.83 L82.28,311.89 L83.63,311.96 L84.99,312.02 L86.34,312.09 L87.7,312.15 L89.06,312.22 L90.41,312.29 L91.77,312.36 L93.12,312.44 L94.47,312.51 L95.83,312.59 L97.19,312.67 L98.54,312.75 L99.89,312.83 L101.25,312.91 L102.61,312.99 L103.96,313.08 L105.31,313.17 L106.67,313.26 L108.03,313.35 L109.38,313.44 L110.73,313.53 L112.09,313.63 L113.44,313.73 L114.8,313.83 L116.16,313.93 L117.51,314.03 L118.86,314.14 L120.22,314.24 L121.58,314.35 L122.93,314.46 L124.29,314.57 L125.64,314.69 L126.99,314.8 L128.35,314.92 L129.7,315.04 L131.06,315.16 L132.41,315.28 L133.77,315.41 L135.12,315.54 L136.48,315.67 L137.84,315.8 L139.19,315.93 L140.55,316.07 L141.9,316.21 L143.25,316.34 L144.61,316.49 L145.96,316.63 L147.32,316.78 L148.68,316.93 L150.03,317.08 L151.38,317.23 L152.74,317.38 L154.09,317.54 L155.45,317.7 L156.81,317.86 L158.16,318.03 L159.51,318.19 L160.87,318.36 L162.22,318.54 L163.58,318.71 L164.94,318.89 L166.29,319.07 L167.65,319.25 L169,319.43 L170.35,319.62 L171.71,319.81 L173.06,320 L174.42,320.19 L175.78,320.39 L177.13,320.59 L178.49,320.79 L179.84,321 L181.2,321.21 L182.55,321.42 L183.91,321.63 L185.26,321.85 L186.61,322.07 L187.97,322.29 L189.32,322.52 L190.68,322.75 L192.03,322.98 L193.39,323.21 L194.75,323.45 L196.1,323.69 L197.45,323.94 L198.81,324.18 L200.16,324.43 L201.52,324.69 L202.88,324.94 L204.23,325.2 L205.59,325.47 L206.94,325.73 L208.3,326 L209.65,326.28 L211,326.56 L212.36,326.84 L213.72,327.12 L215.07,327.41 L216.43,327.7 L217.78,327.99 L219.14,328.29 L220.49,328.6 L221.84,328.9 L223.2,329.21 L224.55,329.53 L225.91,329.84 L227.26,330.16 L228.62,330.49 L229.97,330.82 L231.33,331.15 L232.69,331.49 L234.04,331.83 L235.4,332.18 L236.75,332.53 L238.1,332.88 L239.46,333.24 L240.81,333.6 L242.17,333.97 L243.53,334.34 L244.88,334.71 L246.24,335.09 L247.59,335.48 L248.95,335.87 L250.3,336.26 L251.66,336.66 L253.01,337.06 L254.36,337.47 L255.72,337.88 L257.07,338.3 L258.43,338.72 L259.78,339.14 L261.14,339.58 L262.5,340.01 L263.85,340.45 L265.2,340.9 L266.56,341.35 L267.91,341.81 L269.27,342.27 L270.62,342.73 L271.98,343.21 L273.34,343.68 L274.69,344.17 L276.05,344.65 L277.4,345.15 L278.75,345.64 L280.11,346.15 L281.47,346.66 L282.82,347.17 L284.18,347.69 L285.53,348.22 L286.88,348.75 L288.24,349.29 L289.59,349.84 L290.95,350.39 L292.31,350.94 L293.66,351.5 L295.01,352.07 L296.37,352.65 L297.72,353.23 L299.08,353.81 L300.44,354.4 L301.79,355 L303.14,355.61 L304.5,356.22" fill="none" stroke="#f1434a" stroke-width="2.1" stroke-linejoin="round"/>
<path d="M33.5,310.55 L34.85,310.55 L36.21,310.56 L37.56,310.58 L38.92,310.6 L40.27,310.62 L41.63,310.66 L42.98,310.7 L44.34,310.74 L45.7,310.79 L47.05,310.85 L48.41,310.92 L49.76,310.98 L51.12,311.06 L52.47,311.14 L53.83,311.23 L55.18,311.32 L56.53,311.41 L57.89,311.52 L59.25,311.62 L60.6,311.74 L61.95,311.86 L63.31,311.98 L64.67,312.11 L66.02,312.24 L67.38,312.38 L68.73,312.52 L70.09,312.67 L71.44,312.82 L72.79,312.97 L74.15,313.13 L75.5,313.3 L76.86,313.46 L78.22,313.64 L79.57,313.81 L80.92,313.99 L82.28,314.17 L83.63,314.36 L84.99,314.54 L86.34,314.73 L87.7,314.93 L89.06,315.12 L90.41,315.32 L91.77,315.53 L93.12,315.73 L94.47,315.93 L95.83,316.14 L97.19,316.35 L98.54,316.56 L99.89,316.78 L101.25,316.99 L102.61,317.2 L103.96,317.42 L105.31,317.64 L106.67,317.86 L108.03,318.08 L109.38,318.3 L110.73,318.51 L112.09,318.74 L113.44,318.96 L114.8,319.18 L116.16,319.4 L117.51,319.62 L118.86,319.84 L120.22,320.06 L121.58,320.27 L122.93,320.49 L124.29,320.71 L125.64,320.93 L126.99,321.14 L128.35,321.36 L129.7,321.57 L131.06,321.78 L132.41,321.99 L133.77,322.2 L135.12,322.41 L136.48,322.62 L137.84,322.82 L139.19,323.02 L140.55,323.22 L141.9,323.42 L143.25,323.62 L144.61,323.81 L145.96,324.01 L147.32,324.2 L148.68,324.38 L150.03,324.57 L151.38,324.75 L152.74,324.93 L154.09,325.11 L155.45,325.29 L156.81,325.46 L158.16,325.63 L159.51,325.8 L160.87,325.97 L162.22,326.13 L163.58,326.29 L164.94,326.45 L166.29,326.6 L167.65,326.76 L169,326.91 L170.35,327.05 L171.71,327.2 L173.06,327.34 L174.42,327.48 L175.78,327.61 L177.13,327.75 L178.49,327.88 L179.84,328 L181.2,328.13 L182.55,328.25 L183.91,328.37 L185.26,328.49 L186.61,328.6 L187.97,328.72 L189.32,328.83 L190.68,328.93 L192.03,329.04 L193.39,329.14 L194.75,329.24 L196.1,329.33 L197.45,329.43 L198.81,329.52 L200.16,329.61 L201.52,329.7 L202.88,329.78 L204.23,329.86 L205.59,329.94 L206.94,330.02 L208.3,330.1 L209.65,330.17 L211,330.24 L212.36,330.31 L213.72,330.38 L215.07,330.44 L216.43,330.51 L217.78,330.57 L219.14,330.63 L220.49,330.69 L221.84,330.74 L223.2,330.8 L224.55,330.85 L225.91,330.9 L227.26,330.95 L228.62,331 L229.97,331.04 L231.33,331.09 L232.69,331.13 L234.04,331.17 L235.4,331.21 L236.75,331.25 L238.1,331.29 L239.46,331.32 L240.81,331.36 L242.17,331.39 L243.53,331.42 L244.88,331.45 L246.24,331.48 L247.59,331.51 L248.95,331.54 L250.3,331.56 L251.66,331.59 L253.01,331.61 L254.36,331.64 L255.72,331.66 L257.07,331.68 L258.43,331.7 L259.78,331.72 L261.14,331.74 L262.5,331.76 L263.85,331.78 L265.2,331.8 L266.56,331.81 L267.91,331.83 L269.27,331.84 L270.62,331.86 L271.98,331.87 L273.34,331.88 L274.69,331.9 L276.05,331.91 L277.4,331.92 L278.75,331.93 L280.11,331.94 L281.47,331.95 L282.82,331.96 L284.18,331.97 L285.53,331.98 L286.88,331.99 L288.24,331.99 L289.59,332 L290.95,332.01 L292.31,332.02 L293.66,332.02 L295.01,332.03 L296.37,332.03 L297.72,332.04 L299.08,332.05 L300.44,332.05 L301.79,332.05 L303.14,332.06 L304.5,332.06" fill="none" stroke="#f1434a" stroke-width="2.1" stroke-linejoin="round"/>
<path d="M33.5,522.3 L34.85,521.28 L36.21,520.26 L37.56,519.24 L38.92,518.22 L40.27,517.2 L41.63,516.18 L42.98,515.16 L44.34,514.14 L45.7,513.12 L47.05,512.11 L48.41,511.09 L49.76,510.07 L51.12,509.05 L52.47,508.03 L53.83,507.02 L55.18,506 L56.53,504.99 L57.89,503.97 L59.25,502.96 L60.6,501.94 L61.95,500.93 L63.31,499.92 L64.67,498.91 L66.02,497.89 L67.38,496.88 L68.73,495.87 L70.09,494.87 L71.44,493.86 L72.79,492.85 L74.15,491.84 L75.5,490.84 L76.86,489.84 L78.22,488.83 L79.57,487.83 L80.92,486.83 L82.28,485.83 L83.63,484.83 L84.99,483.83 L86.34,482.84 L87.7,481.84 L89.06,480.85 L90.41,479.86 L91.77,478.86 L93.12,477.87 L94.47,476.89 L95.83,475.9 L97.19,474.91 L98.54,473.93 L99.89,472.95 L101.25,471.97 L102.61,470.99 L103.96,470.01 L105.31,469.03 L106.67,468.06 L108.03,467.08 L109.38,466.11 L110.73,465.14 L112.09,464.18 L113.44,463.21 L114.8,462.25 L116.16,461.28 L117.51,460.32 L118.86,459.37 L120.22,458.41 L121.58,457.45 L122.93,456.5 L124.29,455.55 L125.64,454.6 L126.99,453.66 L128.35,452.71 L129.7,451.77 L131.06,450.83 L132.41,449.89 L133.77,448.96 L135.12,448.02 L136.48,447.09 L137.84,446.16 L139.19,445.24 L140.55,444.31 L141.9,443.39 L143.25,442.47 L144.61,441.56 L145.96,440.64 L147.32,439.73 L148.68,438.82 L150.03,437.92 L151.38,437.01 L152.74,436.11 L154.09,435.21 L155.45,434.31 L156.81,433.42 L158.16,432.53 L159.51,431.64 L160.87,430.76 L162.22,429.87 L163.58,428.99 L164.94,428.12 L166.29,427.24 L167.65,426.37 L169,425.5 L170.35,424.64 L171.71,423.77 L173.06,422.91 L174.42,422.06 L175.78,421.2 L177.13,420.35 L178.49,419.5 L179.84,418.66 L181.2,417.82 L182.55,416.98 L183.91,416.14 L185.26,415.31 L186.61,414.48 L187.97,413.66 L189.32,412.83 L190.68,412.01 L192.03,411.2 L193.39,410.38 L194.75,409.57 L196.1,408.77 L197.45,407.96 L198.81,407.16 L200.16,406.37 L201.52,405.57 L202.88,404.78 L204.23,404 L205.59,403.21 L206.94,402.43 L208.3,401.66 L209.65,400.89 L211,400.12 L212.36,399.35 L213.72,398.59 L215.07,397.83 L216.43,397.08 L217.78,396.32 L219.14,395.58 L220.49,394.83 L221.84,394.09 L223.2,393.36 L224.55,392.62 L225.91,391.89 L227.26,391.17 L228.62,390.44 L229.97,389.73 L231.33,389.01 L232.69,388.3 L234.04,387.59 L235.4,386.89 L236.75,386.19 L238.1,385.49 L239.46,384.8 L240.81,384.11 L242.17,383.43 L243.53,382.75 L244.88,382.07 L246.24,381.4 L247.59,380.73 L248.95,380.06 L250.3,379.4 L251.66,378.74 L253.01,378.09 L254.36,377.44 L255.72,376.79 L257.07,376.15 L258.43,375.51 L259.78,374.88 L261.14,374.25 L262.5,373.62 L263.85,373 L265.2,372.38 L266.56,371.77 L267.91,371.16 L269.27,370.55 L270.62,369.95 L271.98,369.35 L273.34,368.76 L274.69,368.17 L276.05,367.58 L277.4,367 L278.75,366.42 L280.11,365.85 L281.47,365.28 L282.82,364.72 L284.18,364.15 L285.53,363.6 L286.88,363.04 L288.24,362.49 L289.59,361.95 L290.95,361.41 L292.31,360.87 L293.66,360.34 L295.01,359.81 L296.37,359.28 L297.72,358.76 L299.08,358.25 L300.44,357.73 L301.79,357.22 L303.14,356.72 L304.5,356.22" fill="none" stroke="#4a4af2" stroke-width="2.1" stroke-linejoin="round"/>
<path d="M33.5,522.3 L34.85,521.68 L36.21,521.06 L37.56,520.44 L38.92,519.82 L40.27,519.2 L41.63,518.58 L42.98,517.96 L44.34,517.34 L45.7,516.72 L47.05,516.1 L48.41,515.48 L49.76,514.87 L51.12,514.25 L52.47,513.64 L53.83,513.03 L55.18,512.42 L56.53,511.8 L57.89,511.2 L59.25,510.59 L60.6,509.98 L61.95,509.38 L63.31,508.77 L64.67,508.17 L66.02,507.57 L67.38,506.97 L68.73,506.38 L70.09,505.78 L71.44,505.19 L72.79,504.6 L74.15,504.02 L75.5,503.43 L76.86,502.85 L78.22,502.27 L79.57,501.69 L80.92,501.11 L82.28,500.54 L83.63,499.97 L84.99,499.41 L86.34,498.84 L87.7,498.28 L89.06,497.72 L90.41,497.17 L91.77,496.62 L93.12,496.07 L94.47,495.52 L95.83,494.98 L97.19,494.44 L98.54,493.91 L99.89,493.37 L101.25,492.85 L102.61,492.32 L103.96,491.8 L105.31,491.29 L106.67,490.77 L108.03,490.26 L109.38,489.76 L110.73,489.26 L112.09,488.76 L113.44,488.27 L114.8,487.78 L116.16,487.3 L117.51,486.82 L118.86,486.35 L120.22,485.88 L121.58,485.41 L122.93,484.95 L124.29,484.49 L125.64,484.04 L126.99,483.6 L128.35,483.15 L129.7,482.72 L131.06,482.29 L132.41,481.86 L133.77,481.44 L135.12,481.02 L136.48,480.61 L137.84,480.2 L139.19,479.8 L140.55,479.41 L141.9,479.02 L143.25,478.63 L144.61,478.25 L145.96,477.88 L147.32,477.51 L148.68,477.15 L150.03,476.79 L151.38,476.44 L152.74,476.1 L154.09,475.76 L155.45,475.43 L156.81,475.1 L158.16,474.78 L159.51,474.46 L160.87,474.15 L162.22,473.85 L163.58,473.55 L164.94,473.26 L166.29,472.97 L167.65,472.69 L169,472.42 L170.35,472.16 L171.71,471.9 L173.06,471.64 L174.42,471.39 L175.78,471.15 L177.13,470.92 L178.49,470.69 L179.84,470.47 L181.2,470.26 L182.55,470.05 L183.91,469.84 L185.26,469.65 L186.61,469.46 L187.97,469.28 L189.32,469.1 L190.68,468.94 L192.03,468.77 L193.39,468.62 L194.75,468.47 L196.1,468.33 L197.45,468.19 L198.81,468.07 L200.16,467.94 L201.52,467.83 L202.88,467.72 L204.23,467.62 L205.59,467.53 L206.94,467.44 L208.3,467.36 L209.65,467.29 L211,467.22 L212.36,467.16 L213.72,467.11 L215.07,467.07 L216.43,467.03 L217.78,467 L219.14,466.97 L220.49,466.95 L221.84,466.94 L223.2,466.94 L224.55,466.94 L225.91,466.94 L227.26,466.94 L228.62,466.94 L229.97,466.94 L231.33,466.94 L232.69,466.94 L234.04,466.94 L235.4,466.94 L236.75,466.94 L238.1,466.94 L239.46,466.94 L240.81,466.94 L242.17,466.94 L243.53,466.94 L244.88,466.94 L246.24,466.94 L247.59,466.94 L248.95,466.94 L250.3,466.94 L251.66,466.94 L253.01,466.94 L254.36,466.94 L255.72,466.94 L257.07,466.94 L258.43,466.94 L259.78,466.94 L261.14,466.94 L262.5,466.94 L263.85,466.94 L265.2,466.94 L266.56,466.94 L267.91,466.94 L269.27,466.94 L270.62,466.94 L271.98,466.94 L273.34,466.94 L274.69,466.94 L276.05,466.94 L277.4,466.94 L278.75,466.94 L280.11,466.94 L281.47,466.94 L282.82,466.94 L284.18,466.94 L285.53,466.94 L286.88,466.94 L288.24,466.94 L289.59,466.94 L290.95,466.94 L292.31,466.94 L293.66,466.94 L295.01,466.94 L296.37,466.94 L297.72,466.94 L299.08,466.94 L300.44,466.94 L301.79,466.94 L303.14,466.94 L304.5,466.94" fill="none" stroke="#4a4af2" stroke-width="2.1" stroke-linejoin="round"/>
<text x="181.2" y="317.6" font-family="Liberation Sans, sans-serif" font-size="11.6" text-anchor="middle" font-weight="normal" font-style="normal" fill="#231f20" >LO</text>
<text x="181.2" y="341.2" font-family="Liberation Sans, sans-serif" font-size="11.6" text-anchor="middle" font-weight="normal" font-style="normal" fill="#231f20" >TO</text>
<text x="293.8" y="371.8" font-family="Liberation Sans, sans-serif" font-size="11.6" text-anchor="middle" font-weight="normal" font-style="normal" fill="#231f20" >LA</text>
<text x="294.4" y="464.6" font-family="Liberation Sans, sans-serif" font-size="11.6" text-anchor="middle" font-weight="normal" font-style="normal" fill="#231f20" >TA</text>
<text x="45" y="331.6" font-family="Liberation Sans, sans-serif" font-size="11.6" text-anchor="start" font-weight="normal" font-style="normal" fill="#231f20" >Raman</text>
<line x1="69.4" y1="321.4" x2="49.19" y2="313.59" stroke="#111" stroke-width="0.9"/><path d="M45.6,312.2 L51.67,311.76 L49.96,313.89 L49.79,316.61 Z" fill="#111"/>
<text x="52.2" y="482.4" font-family="Liberation Sans, sans-serif" font-size="11.6" text-anchor="start" font-weight="normal" font-style="normal" fill="#231f20" >BLS</text>
<line x1="61.4" y1="485.4" x2="48.38" y2="504.42" stroke="#111" stroke-width="0.9"/><path d="M46.2,507.6 L47.16,501.59 L48.84,503.74 L51.45,504.53 Z" fill="#111"/>
<text x="154.2" y="518.6" font-family="Liberation Sans, sans-serif" font-size="11.6" text-anchor="start" font-weight="normal" font-style="normal" fill="#231f20" >[001]</text>
<line x1="182" y1="514" x2="195.95" y2="514" stroke="#111" stroke-width="0.9"/><path d="M199.8,514 L194.3,516.6 L195.12,514 L194.3,511.4 Z" fill="#111"/>
<text x="169.2" y="544.2" font-family="Liberation Sans, sans-serif" font-size="11.6" text-anchor="middle" font-weight="normal" font-style="normal" fill="#231f20" >Reduced wavevector</text>
<text x="33.2" y="533.2" font-family="Liberation Sans, sans-serif" font-size="11.6" text-anchor="start" font-weight="normal" font-style="normal" fill="#231f20" >Γ</text>
<text x="298.4" y="533.2" font-family="Liberation Sans, sans-serif" font-size="11.6" text-anchor="start" font-weight="normal" font-style="normal" fill="#231f20" >X</text>
<text x="45" y="533" font-family="Liberation Sans, sans-serif" font-size="11.6" fill="#8a2fa0"><tspan font-style="italic">q</tspan><tspan font-size="8.4" dy="2">m</tspan></text>
<text x="9.4" y="412.2" font-family="Liberation Sans, sans-serif" font-size="11.6" text-anchor="middle" font-weight="normal" font-style="normal" fill="#231f20" transform="rotate(-90 9.4 412.2)">Frequency (THz)</text>
<text x="349.4" y="307.2" font-family="Liberation Sans, sans-serif" font-size="13.5" text-anchor="start" font-weight="bold" font-style="normal" fill="#000" >d</text>
<rect x="364.0" y="302.6" width="311.2" height="95.2" fill="#fdfdfd"/>
<rect x="388" y="306" width="56" height="35" fill="#ffffff"/>
<defs><clipPath id="cdt"><rect x="364.0" y="303.1" width="311.2" height="95.2"/></clipPath><clipPath id="cdb"><rect x="364.4" y="427.6" width="311.2" height="93.4"/></clipPath></defs>
<line x1="364" y1="302.6" x2="463.2" y2="302.6" stroke="#7a7a7a" stroke-width="1"/>
<line x1="364" y1="397.8" x2="463.2" y2="397.8" stroke="#5a5a5a" stroke-width="1"/>
<line x1="471" y1="302.6" x2="565.6" y2="302.6" stroke="#7a7a7a" stroke-width="1"/>
<line x1="471" y1="397.8" x2="565.6" y2="397.8" stroke="#5a5a5a" stroke-width="1"/>
<line x1="573.6" y1="302.6" x2="675.2" y2="302.6" stroke="#7a7a7a" stroke-width="1"/>
<line x1="573.6" y1="397.8" x2="675.2" y2="397.8" stroke="#5a5a5a" stroke-width="1"/>
<line x1="364.0" y1="302.6" x2="364.0" y2="397.8" stroke="#7a7a7a" stroke-width="1"/>
<line x1="675.2" y1="302.6" x2="675.2" y2="397.8" stroke="#7a7a7a" stroke-width="1"/>
<line x1="462.4" y1="306.2" x2="465.8" y2="299" stroke="#333" stroke-width="0.9"/>
<line x1="462.4" y1="401.4" x2="465.8" y2="394.2" stroke="#333" stroke-width="0.9"/>
<line x1="466.4" y1="306.2" x2="469.8" y2="299" stroke="#333" stroke-width="0.9"/>
<line x1="466.4" y1="401.4" x2="469.8" y2="394.2" stroke="#333" stroke-width="0.9"/>
<line x1="565" y1="306.2" x2="568.4" y2="299" stroke="#333" stroke-width="0.9"/>
<line x1="565" y1="401.4" x2="568.4" y2="394.2" stroke="#333" stroke-width="0.9"/>
<line x1="569" y1="306.2" x2="572.4" y2="299" stroke="#333" stroke-width="0.9"/>
<line x1="569" y1="401.4" x2="572.4" y2="394.2" stroke="#333" stroke-width="0.9"/>
<line x1="370.7" y1="397.8" x2="370.7" y2="395.8" stroke="#555" stroke-width="0.9"/>
<line x1="392.3" y1="397.8" x2="392.3" y2="394.4" stroke="#555" stroke-width="0.9"/>
<line x1="414.0" y1="397.8" x2="414.0" y2="395.8" stroke="#555" stroke-width="0.9"/>
<line x1="435.4" y1="397.8" x2="435.4" y2="394.4" stroke="#555" stroke-width="0.9"/>
<line x1="457.2" y1="397.8" x2="457.2" y2="395.8" stroke="#555" stroke-width="0.9"/>
<line x1="477.0" y1="397.8" x2="477.0" y2="394.4" stroke="#555" stroke-width="0.9"/>
<line x1="497.7" y1="397.8" x2="497.7" y2="395.8" stroke="#555" stroke-width="0.9"/>
<line x1="518.3" y1="397.8" x2="518.3" y2="394.4" stroke="#555" stroke-width="0.9"/>
<line x1="538.8" y1="397.8" x2="538.8" y2="395.8" stroke="#555" stroke-width="0.9"/>
<line x1="559.7" y1="397.8" x2="559.7" y2="394.4" stroke="#555" stroke-width="0.9"/>
<line x1="579.3" y1="397.8" x2="579.3" y2="395.8" stroke="#555" stroke-width="0.9"/>
<line x1="602.0" y1="397.8" x2="602.0" y2="394.4" stroke="#555" stroke-width="0.9"/>
<line x1="624.5" y1="397.8" x2="624.5" y2="395.8" stroke="#555" stroke-width="0.9"/>
<line x1="646.6" y1="397.8" x2="646.6" y2="394.4" stroke="#555" stroke-width="0.9"/>
<line x1="669.0" y1="397.8" x2="669.0" y2="395.8" stroke="#555" stroke-width="0.9"/>
<text x="392.3" y="411.6" font-family="Liberation Sans, sans-serif" font-size="11.6" text-anchor="middle" font-weight="normal" font-style="normal" fill="#231f20" >−15</text>
<text x="435.4" y="411.6" font-family="Liberation Sans, sans-serif" font-size="11.6" text-anchor="middle" font-weight="normal" font-style="normal" fill="#231f20" >−12</text>
<text x="477.2" y="411.6" font-family="Liberation Sans, sans-serif" font-size="11.6" text-anchor="middle" font-weight="normal" font-style="normal" fill="#231f20" >−1</text>
<text x="518" y="411.6" font-family="Liberation Sans, sans-serif" font-size="11.6" text-anchor="middle" font-weight="normal" font-style="normal" fill="#231f20" >0</text>
<text x="559.8" y="411.6" font-family="Liberation Sans, sans-serif" font-size="11.6" text-anchor="middle" font-weight="normal" font-style="normal" fill="#231f20" >1</text>
<text x="602" y="411.6" font-family="Liberation Sans, sans-serif" font-size="11.6" text-anchor="middle" font-weight="normal" font-style="normal" fill="#231f20" >12</text>
<text x="646.4" y="411.6" font-family="Liberation Sans, sans-serif" font-size="11.6" text-anchor="middle" font-weight="normal" font-style="normal" fill="#231f20" >15</text>
<text x="519.4" y="421.3" font-family="Liberation Sans, sans-serif" font-size="11.6" text-anchor="middle" font-weight="normal" font-style="normal" fill="#231f20" >Frequency (THz)</text>
<path d="M364.6,391.25 L365.2,391.03 L365.8,391.62 L366.4,390.91 L367,391.46 L367.6,391.24 L368.2,390.85 L368.8,391.38 L369.4,390.79 L370,391.25 L370.6,390.78 L371.2,390.78 L371.8,391.14 L372.4,391.59 L373,390.7 L373.6,390.76 L374.2,391.18 L374.8,391.49 L375.4,390.95 L376,390.61 L376.6,391.16 L377.2,389.85 L377.8,390.58 L378.4,389.55 L379,388.85 L379.6,387.82 L380.2,385.76 L380.8,381.03 L381.4,369.38 L382,352.1 L382.6,330.66 L383.2,314.31 L383.8,314.53 L384.4,329.97 L385,351.47 L385.6,369.41 L386.2,380.87 L386.8,385.9 L387.4,388.05 L388,389.38 L388.6,389.75 L389.2,389.91 L389.8,390.75 L390.4,390.82 L391,390.43 L391.6,390.94 L392.2,390.98 L392.8,391.48 L393.4,391.37 L394,390.89 L394.6,391.77 L395.2,390.78 L395.8,391.17 L396.4,391.61 L397,390.91 L397.6,391.33 L398.2,390.81 L398.8,391.59 L399.4,391.72 L400,391.5 L400.6,391.88 L401.2,391.22 L401.8,391.68 L402.4,391.57 L403,391.56 L403.6,391.42 L404.2,391.89 L404.8,392.02 L405.4,391.46 L406,391.7 L406.6,390.98 L407.2,391.75 L407.8,391.69 L408.4,392.11 L409,391.91 L409.6,391.27 L410.2,391.39 L410.8,391.73 L411.4,390.96 L412,391.49 L412.6,391.14 L413.2,391.08 L413.8,391.02 L414.4,391.87 L415,391.1 L415.6,391.25 L416.2,391.42 L416.8,392 L417.4,391.05 L418,391.5 L418.6,391.62 L419.2,392.02 L419.8,391.94 L420.4,392 L421,391.3 L421.6,391.46 L422.2,391.4 L422.8,392.03 L423.4,392.12 L424,391.15 L424.6,391.18 L425.2,391.25 L425.8,391.25 L426.4,391.55 L427,391.68 L427.6,391.29 L428.2,390.98 L428.8,391.48 L429.4,391.42 L430,391.66 L430.6,392.12 L431.2,391.81 L431.8,391.6 L432.4,391.72 L433,391.79 L433.6,391.04 L434.2,392.06 L434.8,391.92 L435.4,392.03 L436,391.94 L436.6,391.45 L437.2,391.46 L437.8,391.11 L438.4,391.74 L439,391.06 L439.6,391.06 L440.2,391.23 L440.8,391.18 L441.4,391.39 L442,391.05 L442.6,390.99 L443.2,391.17 L443.8,391.11 L444.4,391.42 L445,391.02 L445.6,392.04 L446.2,391.72 L446.8,391.17 L447.4,391.29 L448,391.4 L448.6,391.42 L449.2,391.14 L449.8,392.01 L450.4,392.18 L451,391.55 L451.6,391.57 L452.2,391.09 L452.8,391.11 L453.4,391.4 L454,391.31 L454.6,391.98 L455.2,391.18 L455.8,391.02 L456.4,392.13 L457,391.62 L457.6,391.17 L458.2,391.64 L458.8,391.02 L459.4,391.62 L460,392.17 L460.6,392.03 L461.2,391.83 L461.8,391.31 L462.4,391.43 L463,391.19" fill="none" stroke="#f25356" stroke-width="1.9" stroke-linejoin="round" clip-path="url(#cdt)"/>
<path d="M470.6,391.84 L471.3,391.6 L472,391.84 L472.7,391.39 L473.4,391.28 L474.1,391.87 L474.8,392.04 L475.5,391.9 L476.2,391.85 L476.9,391.86 L477.6,391.78 L478.3,391.26 L479,391.55 L479.7,391.38 L480.4,391.05 L481.1,391.05 L481.8,391.29 L482.5,391.27 L483.2,391.69 L483.9,391.95 L484.6,391.43 L485.3,391.91 L486,391.95 L486.7,391.91 L487.4,391.31 L488.1,391.15 L488.8,391.14 L489.5,391.1 L490.2,391.09 L490.9,391.49 L491.6,391.74 L492.3,391.66 L493,391.27 L493.7,391.41 L494.4,391.53 L495.1,390.78 L495.8,391.31 L496.5,391.52 L497.2,391.34 L497.9,391.25 L498.6,390.91 L499.3,390.54 L500,391.05 L500.7,390.45 L501.4,390.7 L502.1,390.49 L502.8,389.27 L503.5,388.23 L504.2,387.26 L504.55,386.09 L504.9,384.49 L505.25,383.33 L505.6,382.2 L505.95,381.81 L506.3,380.64 L506.65,379.03 L507,378.92 L507.35,378.49 L507.7,377.79 L508.05,377.32 L508.4,377.52 L508.75,377.24 L509.1,377.29 L509.45,378.36 L509.8,377.99 L510.15,377.51 L510.5,377.11 L510.85,375.23 L511.2,373.65 L511.55,371.14 L511.9,368.25 L512.25,367.27 L512.6,250 L512.95,250 L513.3,250 L513.65,250 L514,250 L514.35,250 L514.7,250 L515.05,250 L515.4,250 L515.75,250 L516.1,250 L516.45,250 L516.8,250 L517.15,250 L517.5,250 L517.85,250 L518.2,250 L518.55,250 L518.9,250 L519.25,250 L519.6,250 L519.95,250 L520.3,250 L520.65,250 L521,250 L521.35,250 L521.7,250 L522.05,250 L522.4,250 L522.75,250 L523.1,250 L523.45,250 L523.8,250 L524.15,250 L524.5,364.02 L524.85,365.98 L525.2,368.94 L525.55,371.2 L525.9,373.62 L526.25,375.21 L526.6,377.52 L526.95,378.24 L527.3,379.41 L527.65,380.45 L528,381.57 L528.35,381.79 L528.7,382.92 L529.05,383.08 L529.4,383.63 L529.75,384.1 L530.1,384.04 L530.45,384.87 L530.8,384.99 L531.15,385.16 L531.5,386.28 L531.85,385.96 L532.2,386.54 L532.9,387.31 L533.6,387.58 L534.3,387.74 L535,388.27 L535.7,388.61 L536.4,389.1 L537.1,388.66 L537.8,389.32 L538.5,389.19 L539.2,389.39 L539.9,390.03 L540.6,389.9 L541.3,390.07 L542,390.38 L542.7,390.63 L543.4,390.25 L544.1,390.5 L544.8,390.46 L545.5,390.54 L546.2,390.78 L546.9,390.6 L547.6,390.73 L548.3,390.72 L549,391.23 L549.7,391.03 L550.4,391.24 L551.1,391.34 L551.8,390.69 L552.5,391.03 L553.2,391.44 L553.9,391.36 L554.6,390.68 L555.3,390.69 L556,391.03 L556.7,390.69 L557.4,390.87 L558.1,390.72 L558.8,391.34 L559.5,391.47 L560.2,391.6 L560.9,390.87 L561.6,391.44 L562.3,391.4 L563,390.9 L563.7,391.65 L564.4,391.74 L565.1,391.01 L565.8,391.75 L566.5,391.21" fill="none" stroke="#f25356" stroke-width="1.9" stroke-linejoin="round" clip-path="url(#cdt)"/>
<path d="M573.4,392.28 L574,392.89 L574.6,392.7 L575.2,391.89 L575.8,392.22 L576.4,392.32 L577,392.11 L577.6,391.93 L578.2,392.08 L578.8,392.57 L579.4,391.72 L580,392.36 L580.6,392.23 L581.2,391.72 L581.8,392.1 L582.4,392.45 L583,392.31 L583.6,391.78 L584.2,392.88 L584.8,392.65 L585.4,392.87 L586,391.83 L586.6,392.02 L587.2,391.75 L587.8,392.63 L588.4,392.02 L589,391.86 L589.6,392.21 L590.2,392.79 L590.8,392.68 L591.4,392.01 L592,391.88 L592.6,392.8 L593.2,392.38 L593.8,392.54 L594.4,391.81 L595,391.77 L595.6,392.53 L596.2,392.21 L596.8,391.79 L597.4,392.83 L598,392.46 L598.6,392.66 L599.2,391.8 L599.8,392.73 L600.4,391.78 L601,392.74 L601.6,392.24 L602.2,392.11 L602.8,392.36 L603.4,392.81 L604,392.02 L604.6,391.86 L605.2,392.33 L605.8,391.99 L606.4,391.83 L607,391.89 L607.6,391.76 L608.2,391.94 L608.8,392.07 L609.4,392.07 L610,392.61 L610.6,392.05 L611.2,392.3 L611.8,391.91 L612.4,392.12 L613,391.72 L613.6,392 L614.2,391.72 L614.8,392.58 L615.4,392.36 L616,391.93 L616.6,392.27 L617.2,392.82 L617.8,391.83 L618.4,392.68 L619,392.22 L619.6,392.29 L620.2,392.7 L620.8,392.17 L621.4,392.31 L622,392.53 L622.6,392.88 L623.2,392.11 L623.8,392.7 L624.4,392.55 L625,392.46 L625.6,392.19 L626.2,392.12 L626.8,391.77 L627.4,391.86 L628,391.78 L628.6,392.59 L629.2,392.01 L629.8,391.9 L630.4,391.8 L631,392.71 L631.6,392.74 L632.2,392.5 L632.8,392.04 L633.4,391.99 L634,392.05 L634.6,392.25 L635.2,391.89 L635.8,392.23 L636.4,392.02 L637,392.85 L637.6,392.87 L638.2,392.36 L638.8,391.99 L639.4,392.86 L640,392.07 L640.6,392.13 L641.2,391.7 L641.8,392.16 L642.4,392.27 L643,392.3 L643.6,391.94 L644.2,392.31 L644.8,391.71 L645.4,392.02 L646,391.81 L646.6,392.18 L647.2,391.75 L647.8,391.73 L648.4,392.07 L649,391.98 L649.6,392.4 L650.2,392.34 L650.8,392.6 L651.4,392.49 L652,392.56 L652.6,392.74 L653.2,392.04 L653.8,391.47 L654.4,390.84 L655,387.59 L655.6,386.8 L656.2,387.5 L656.8,389 L657.4,391.73 L658,392.55 L658.6,392.42 L659.2,392.58 L659.8,392.67 L660.4,391.87 L661,392.33 L661.6,392.31 L662.2,392.7 L662.8,392.67 L663.4,392.69 L664,392.4 L664.6,392.77 L665.2,392.52 L665.8,392.53 L666.4,391.98 L667,391.74 L667.6,391.86 L668.2,392.13 L668.8,391.83 L669.4,392.7 L670,392.37 L670.6,392.45 L671.2,392.45 L671.8,392.52 L672.4,392.29 L673,391.7 L673.6,392.66 L674.2,392.6 L674.8,392.3" fill="none" stroke="#f25356" stroke-width="1.9" stroke-linejoin="round" clip-path="url(#cdt)"/>
<text x="410.8" y="317.4" font-family="Liberation Sans, sans-serif" font-size="11.6" text-anchor="middle" font-weight="normal" font-style="normal" fill="#f25d5d" >LO, TO</text>
<text x="410.9" y="331.6" font-family="Liberation Sans, sans-serif" font-size="11.6" text-anchor="middle" font-weight="normal" font-style="normal" fill="#f25d5d" >15.6 THz</text>
<rect x="364.4" y="427.4" width="311.2" height="93.6" fill="#fdfdfd"/>
<rect x="600" y="429" width="60" height="25" fill="#ffffff"/>
<rect x="583" y="474" width="54" height="27" fill="#ffffff"/>
<rect x="364.4" y="427.4" width="311.2" height="93.6" fill="none" stroke="#7a7a7a" stroke-width="1"/>
<line x1="364.4" y1="521.0" x2="675.6" y2="521.0" stroke="#4a4a4a" stroke-width="1"/>
<line x1="364.4" y1="521.0" x2="364.4" y2="517.6" stroke="#555" stroke-width="0.9"/>
<text x="364.4" y="533.8" font-family="Liberation Sans, sans-serif" font-size="11.6" text-anchor="middle" font-weight="normal" font-style="normal" fill="#231f20" >−150</text>
<line x1="390.35" y1="521.0" x2="390.35" y2="519" stroke="#555" stroke-width="0.9"/>
<line x1="416.3" y1="521.0" x2="416.3" y2="517.6" stroke="#555" stroke-width="0.9"/>
<text x="416.3" y="533.8" font-family="Liberation Sans, sans-serif" font-size="11.6" text-anchor="middle" font-weight="normal" font-style="normal" fill="#231f20" >−100</text>
<line x1="442.25" y1="521.0" x2="442.25" y2="519" stroke="#555" stroke-width="0.9"/>
<line x1="468.2" y1="521.0" x2="468.2" y2="517.6" stroke="#555" stroke-width="0.9"/>
<text x="468.2" y="533.8" font-family="Liberation Sans, sans-serif" font-size="11.6" text-anchor="middle" font-weight="normal" font-style="normal" fill="#231f20" >−50</text>
<line x1="494.15" y1="521.0" x2="494.15" y2="519" stroke="#555" stroke-width="0.9"/>
<line x1="520.1" y1="521.0" x2="520.1" y2="517.6" stroke="#555" stroke-width="0.9"/>
<text x="520.1" y="533.8" font-family="Liberation Sans, sans-serif" font-size="11.6" text-anchor="middle" font-weight="normal" font-style="normal" fill="#231f20" >0</text>
<line x1="546.05" y1="521.0" x2="546.05" y2="519" stroke="#555" stroke-width="0.9"/>
<line x1="572" y1="521.0" x2="572" y2="517.6" stroke="#555" stroke-width="0.9"/>
<text x="572" y="533.8" font-family="Liberation Sans, sans-serif" font-size="11.6" text-anchor="middle" font-weight="normal" font-style="normal" fill="#231f20" >50</text>
<line x1="597.95" y1="521.0" x2="597.95" y2="519" stroke="#555" stroke-width="0.9"/>
<line x1="623.9" y1="521.0" x2="623.9" y2="517.6" stroke="#555" stroke-width="0.9"/>
<text x="623.9" y="533.8" font-family="Liberation Sans, sans-serif" font-size="11.6" text-anchor="middle" font-weight="normal" font-style="normal" fill="#231f20" >100</text>
<line x1="649.85" y1="521.0" x2="649.85" y2="519" stroke="#555" stroke-width="0.9"/>
<line x1="675.8" y1="521.0" x2="675.8" y2="517.6" stroke="#555" stroke-width="0.9"/>
<text x="675.8" y="533.8" font-family="Liberation Sans, sans-serif" font-size="11.6" text-anchor="middle" font-weight="normal" font-style="normal" fill="#231f20" >150</text>
<text x="519.6" y="546.6" font-family="Liberation Sans, sans-serif" font-size="11.6" text-anchor="middle" font-weight="normal" font-style="normal" fill="#231f20" >Frequency (GHz)</text>
<path d="M364.8,513.92 L365.35,514.07 L365.9,513.29 L366.45,513.77 L367,513.32 L367.55,512.79 L368.1,512.71 L368.65,513.26 L369.2,512.77 L369.75,513.16 L370.3,513.62 L370.85,513.09 L371.4,512.5 L371.95,512.15 L372.5,512.02 L373.05,511.78 L373.6,511.02 L374.15,510 L374.7,507.6 L375.25,504.62 L375.8,500.26 L376.35,494.18 L376.9,484.1 L377.45,471.21 L378,455.1 L378.55,440.95 L379.1,436.73 L379.65,446.11 L380.2,461.69 L380.75,476.71 L381.3,488.22 L381.85,496.94 L382.4,502.68 L382.95,506.29 L383.5,507.99 L384.05,510.15 L384.6,510.49 L385.15,511.89 L385.7,512.72 L386.25,511.99 L386.8,512.29 L387.35,513.04 L387.9,513.72 L388.45,513.42 L389,513.04 L389.55,512.79 L390.1,513.72 L390.65,513.23 L391.2,513.5 L391.75,513.06 L392.3,513.37 L392.85,514.16 L393.4,513.46 L393.95,514.05 L394.5,513.95 L395.05,514.43 L395.6,514.45 L396.15,513.81 L396.7,514.39 L397.25,514.14 L397.8,513.37 L398.35,512.91 L398.9,513.35 L399.45,513.54 L400,513.43 L400.55,513.15 L401.1,513.28 L401.65,513.32 L402.2,514.07 L402.75,513.31 L403.3,513.94 L403.85,514.41 L404.4,513.67 L404.95,514.38 L405.5,514.48 L406.05,514.79 L406.6,514.1 L407.15,513.84 L407.7,513.72 L408.25,514.5 L408.8,514.36 L409.35,513.95 L409.9,513.82 L410.45,513.53 L411,513.05 L411.55,512.86 L412.1,513.77 L412.65,513.5 L413.2,514.26 L413.75,513.71 L414.3,513.43 L414.85,513.61 L415.4,513.25 L415.95,513.31 L416.5,514.15 L417.05,514.5 L417.6,514.59 L418.15,514.38 L418.7,514.65 L419.25,514.83 L419.8,514.38 L420.35,514.35 L420.9,513.37 L421.45,513.7 L422,513.29 L422.55,513.03 L423.1,511.95 L423.65,509.8 L424.2,507.28 L424.75,506.68 L425.3,505.62 L425.85,506.59 L426.4,508.18 L426.95,509.91 L427.5,511.89 L428.05,513.39 L428.6,513.14 L429.15,513.48 L429.7,513.12 L430.25,513.25 L430.8,513.07 L431.35,512.64 L431.9,512.38 L432.45,512.28 L433,513.19 L433.55,513.1 L434.1,512.64 L434.65,513.33 L435.2,513.82 L435.75,513.3 L436.3,512.57 L436.85,512.21 L437.4,511.85 L437.95,511.98 L438.5,511.68 L439.05,511.7 L439.6,511.71 L440.15,512.12 L440.7,512.79 L441.25,512.95 L441.8,512.5 L442.35,512.21 L442.9,512.2 L443.45,511.91 L444,511.63 L444.55,510.93 L445.1,510.88 L445.65,512.15 L446.2,511.17 L446.75,511.34 L447.3,511.66 L447.85,512.3 L448.4,511.22 L448.95,510.67 L449.5,510.26 L450.05,510.32 L450.6,510.41 L451.15,511.66 L451.7,512.07 L452.25,512.32 L452.8,510.2 L453.35,508.95 L453.9,510.01 L454.45,511.07 L455,510.42 L455.55,510.32 L456.1,508.47 L456.65,508.51 L457.2,510.07 L457.75,510.58 L458.3,510.89 L458.85,511.37 L459.4,509.22 L459.95,507.46 L460.5,506.51 L461.05,507.12 L461.6,507.91 L462.15,509.16 L462.7,508.99 L463.25,508.53 L463.8,508.59 L464.35,507.37 L464.9,506.91 L465.45,504.57 L466,505.98 L466.55,504.48 L467.1,506.22 L467.65,505.95 L468.2,504.25 L468.75,502.39 L469.3,501.69 L469.85,502.74 L470.4,503.41 L470.95,501.05 L471.5,499.33 L472.05,500.17 L472.6,500.68 L473.15,499.86 L473.7,498.4 L474.25,499.1 L474.8,496.45 L475.35,496.08 L475.9,496.36 L476.45,498.66 L477,498.12 L477.55,498.71 L478.1,496.69 L478.65,494.01 L479.2,492.23 L479.75,494.58 L480.3,494.19 L480.85,491.51 L481.4,488.08 L481.95,488.31 L482.5,488.96 L483.05,487.49 L483.6,485.3 L484.15,485.89 L484.7,487.18 L485.25,483.41 L485.8,480.14 L486.35,480.17 L486.9,480.54 L487.45,482.17 L488,480.06 L488.55,482.37 L489.1,483.19 L489.65,482.1 L490.2,479.52 L490.75,482.71 L491.3,480.25 L491.85,481.98 L492.4,479.06 L492.95,477.25 L493.5,479.61 L494.05,477.76 L494.6,480.93 L495.15,479.56 L495.7,476.61 L496.25,475.08 L496.8,475.41 L497.35,477.17 L497.9,480 L498.45,475.87 L499,475.17 L499.55,473.21 L500.1,476.38 L500.65,468.82 L501.2,460.11 L501.75,456.79 L502.3,462.99 L502.85,512.78 L503.4,520.8 L503.95,520.8 L504.5,520.8 L505.05,520.8 L505.6,520.8 L506.15,520.8 L506.7,520.8 L507.25,520.8 L507.8,520.8 L508.35,520.8 L508.9,520.8 L509.45,520.8 L510,520.8 L510.55,520.8 L511.1,520.8 L511.65,520.8 L512.2,520.8 L512.75,520.8 L513.3,520.8 L513.85,520.8 L514.4,520.8 L514.95,520.8 L515.5,300 L516.05,300 L516.6,300 L517.15,300 L517.7,300 L518.25,300 L518.8,300 L519.35,300 L519.9,300 L520.45,300 L521,300 L521.55,300 L522.1,300 L522.65,300 L523.2,300 L523.75,300 L524.3,520.8 L524.85,520.8 L525.4,520.8 L525.95,520.8 L526.5,520.8 L527.05,520.8 L527.6,520.8 L528.15,520.8 L528.7,520.8 L529.25,520.8 L529.8,520.8 L530.35,520.8 L530.9,520.8 L531.45,520.8 L532,520.8 L532.55,520.8 L533.1,520.8 L533.65,520.8 L534.2,520.8 L534.75,520.8 L535.3,520.8 L535.85,520.8 L536.4,520.8 L536.95,520.8 L537.5,520.8 L538.05,520.8 L538.6,520.8 L539.15,520.8 L539.7,520.8 L540.25,520.8 L540.8,520.8 L541.35,520.8 L541.9,473.72 L542.45,471.32 L543,473.36 L543.55,475.69 L544.1,476.22 L544.65,478.5 L545.2,475.7 L545.75,474.85 L546.3,477.51 L546.85,476.14 L547.4,474.4 L547.95,473.31 L548.5,475.54 L549.05,475.53 L549.6,479.02 L550.15,480.4 L550.7,482.09 L551.25,480.1 L551.8,478.56 L552.35,478.24 L552.9,480.56 L553.45,483.31 L554,483.9 L554.55,483.56 L555.1,484.67 L555.65,486.63 L556.2,488.31 L556.75,489.92 L557.3,491.59 L557.85,491.96 L558.4,489.94 L558.95,492.47 L559.5,491.64 L560.05,492.72 L560.6,492.71 L561.15,494.59 L561.7,493.51 L562.25,493.39 L562.8,493.57 L563.35,493.53 L563.9,496.83 L564.45,497.55 L565,497.12 L565.55,497.39 L566.1,500.15 L566.65,499.89 L567.2,498.84 L567.75,500.73 L568.3,501.32 L568.85,503.1 L569.4,500.85 L569.95,501.2 L570.5,502.82 L571.05,503.92 L571.6,504.92 L572.15,502.47 L572.7,502.19 L573.25,501.57 L573.8,501.63 L574.35,504.46 L574.9,504.8 L575.45,506.24 L576,505.3 L576.55,506.5 L577.1,505.92 L577.65,505.12 L578.2,506.4 L578.75,507.7 L579.3,505.95 L579.85,506.57 L580.4,507.06 L580.95,506.25 L581.5,506.34 L582.05,505.84 L582.6,505.84 L583.15,506.07 L583.7,507.21 L584.25,508.03 L584.8,507.38 L585.35,506.62 L585.9,507.09 L586.45,508.28 L587,507.79 L587.55,507.91 L588.1,507.78 L588.65,509.14 L589.2,509.37 L589.75,508.48 L590.3,508.15 L590.85,508.67 L591.4,509.32 L591.95,509.9 L592.5,509.17 L593.05,508.98 L593.6,509.95 L594.15,509.98 L594.7,509.82 L595.25,509.82 L595.8,510.99 L596.35,510.56 L596.9,510.79 L597.45,510.62 L598,510.66 L598.55,511.4 L599.1,512.01 L599.65,511.44 L600.2,510.95 L600.75,511.45 L601.3,511.03 L601.85,510.55 L602.4,511.57 L602.95,511.49 L603.5,512.02 L604.05,511.77 L604.6,512.32 L605.15,512.06 L605.7,511.52 L606.25,511.04 L606.8,511.56 L607.35,511.98 L607.9,512.62 L608.45,511.84 L609,512.18 L609.55,512.01 L610.1,512.06 L610.65,511.42 L611.2,510.87 L611.75,510.17 L612.3,509.34 L612.85,506.74 L613.4,505.35 L613.95,505.37 L614.5,506.67 L615.05,507.58 L615.6,508.96 L616.15,511.35 L616.7,512.84 L617.25,512.93 L617.8,512.32 L618.35,513.18 L618.9,512.9 L619.45,513.47 L620,513.4 L620.55,513.66 L621.1,512.88 L621.65,513.35 L622.2,512.82 L622.75,512.8 L623.3,513.42 L623.85,513.74 L624.4,513.03 L624.95,512.69 L625.5,512.77 L626.05,512.99 L626.6,512.93 L627.15,512.54 L627.7,512.51 L628.25,513.17 L628.8,513.78 L629.35,512.92 L629.9,513.19 L630.45,513.62 L631,512.85 L631.55,513.55 L632.1,512.94 L632.65,513.28 L633.2,513.4 L633.75,513.58 L634.3,513.24 L634.85,513.21 L635.4,513.43 L635.95,513.33 L636.5,513.61 L637.05,513.46 L637.6,513.38 L638.15,512.75 L638.7,513.24 L639.25,513.32 L639.8,513.02 L640.35,513.59 L640.9,513.92 L641.45,513.65 L642,513.11 L642.55,513.22 L643.1,512.76 L643.65,512.53 L644.2,512.82 L644.75,512.49 L645.3,512.79 L645.85,513.04 L646.4,512.5 L646.95,513.02 L647.5,512.51 L648.05,513.11 L648.6,513.47 L649.15,513.26 L649.7,512.47 L650.25,512.61 L650.8,512.45 L651.35,513.09 L651.9,512.22 L652.45,512.64 L653,512.94 L653.55,512.57 L654.1,512.27 L654.65,510.95 L655.2,510.92 L655.75,509.58 L656.3,508.46 L656.85,506.03 L657.4,500.78 L657.95,494.39 L658.5,484.97 L659.05,470.87 L659.6,455.27 L660.15,441.9 L660.7,437 L661.25,446.47 L661.8,461.2 L662.35,476.55 L662.9,487.83 L663.45,496.62 L664,503.07 L664.55,506.06 L665.1,508 L665.65,509.54 L666.2,510.26 L666.75,510.39 L667.3,510.79 L667.85,511.08 L668.4,512.42 L668.95,512.87 L669.5,513.49 L670.05,512.87 L670.6,513.44 L671.15,512.86 L671.7,513.16 L672.25,513.51 L672.8,513.34 L673.35,513.99 L673.9,513.93 L674.45,513.95 L675,514.41" fill="none" stroke="#3b3bf0" stroke-width="1.9" stroke-linejoin="round" clip-path="url(#cdb)"/>
<text x="629.4" y="438.8" font-family="Liberation Sans, sans-serif" font-size="11.6" text-anchor="middle" font-weight="normal" font-style="normal" fill="#2b2be6" >LA</text>
<text x="629.7" y="451.3" font-family="Liberation Sans, sans-serif" font-size="11.6" text-anchor="middle" font-weight="normal" font-style="normal" fill="#2b2be6" >135.2 GHz</text>
<text x="609.2" y="485" font-family="Liberation Sans, sans-serif" font-size="11.6" text-anchor="middle" font-weight="normal" font-style="normal" fill="#2b2be6" >TA</text>
<text x="609.5" y="498.3" font-family="Liberation Sans, sans-serif" font-size="11.6" text-anchor="middle" font-weight="normal" font-style="normal" fill="#2b2be6" >90.5 GHz</text>
<text x="356.6" y="411.5" font-family="Liberation Sans, sans-serif" font-size="11.6" text-anchor="middle" font-weight="normal" font-style="normal" fill="#231f20" transform="rotate(-90 356.6 411.5)">Intensity (arb. units)</text>
<text x="-0.4" y="582.4" font-family="Liberation Sans, sans-serif" font-size="13.5" text-anchor="start" font-weight="bold" font-style="normal" fill="#000" >e</text>
<defs><linearGradient id="gfront" x1="0" y1="0" x2="1" y2="0"><stop offset="0" stop-color="#bcbebe"/><stop offset="1" stop-color="#b4b6b6"/></linearGradient><linearGradient id="gright" x1="0" y1="0" x2="0" y2="1"><stop offset="0" stop-color="#cdd6e4"/><stop offset="1" stop-color="#c3cddd"/></linearGradient><clipPath id="ctop"><polygon points="34.5,693.8 142.3,620.3 307.2,649.6 249.3,749.8"/></clipPath><radialGradient id="gfoc" cx="0.5" cy="0.5" r="0.5"><stop offset="0" stop-color="#e8ffe0" stop-opacity="1"/><stop offset="0.35" stop-color="#7cf06c" stop-opacity="0.9"/><stop offset="1" stop-color="#7cf06c" stop-opacity="0"/></radialGradient><linearGradient id="gstripe" x1="0" y1="0" x2="1" y2="0"><stop offset="0" stop-color="#6b4646" stop-opacity="0"/><stop offset="0.35" stop-color="#6b4646" stop-opacity="0.26"/><stop offset="0.55" stop-color="#6b4646" stop-opacity="0.06"/><stop offset="0.7" stop-color="#ffffff" stop-opacity="0.45"/><stop offset="1" stop-color="#ffffff" stop-opacity="0"/></linearGradient></defs>
<polygon points="34.5,693.8 249.3,749.8 246.7,780.4 38.4,723" fill="url(#gfront)"/>
<polygon points="249.3,749.8 307.2,649.6 304.5,674.9 246.7,780.4" fill="url(#gright)"/>
<polygon points="34.5,693.8 142.3,620.3 307.2,649.6 249.3,749.8" fill="#f6dddd"/>
<polygon points="91.2,573 288.4,599.3 285.4,688.4 91.8,654.6" fill="#8a8a8a" fill-opacity="0.33"/>
<defs><filter id="fbl" x="-50%" y="-50%" width="200%" height="200%"><feGaussianBlur stdDeviation="2.7"/></filter><filter id="fbl2" x="-50%" y="-50%" width="200%" height="200%"><feGaussianBlur stdDeviation="1.8"/></filter><linearGradient id="gmask" gradientUnits="userSpaceOnUse" x1="185" y1="733" x2="170" y2="625"><stop offset="0" stop-color="#fff" stop-opacity="0"/><stop offset="0.15" stop-color="#fff" stop-opacity="0.12"/><stop offset="0.33" stop-color="#fff" stop-opacity="0.55"/><stop offset="0.5" stop-color="#fff" stop-opacity="0.9"/><stop offset="0.65" stop-color="#fff" stop-opacity="1"/><stop offset="1" stop-color="#fff" stop-opacity="0.85"/></linearGradient><linearGradient id="gmask2" gradientUnits="userSpaceOnUse" x1="60" y1="0" x2="110" y2="0"><stop offset="0" stop-color="#000"/><stop offset="1" stop-color="#fff"/></linearGradient><mask id="mstripe" maskUnits="userSpaceOnUse" x="0" y="560" width="330" height="223"><rect x="0" y="560" width="330" height="223" fill="url(#gmask)"/></mask></defs>
<g clip-path="url(#ctop)"><g mask="url(#mstripe)"><line x1="442.6" y1="415.5" x2="82.98" y2="706.44" stroke="#4e2c2e" stroke-opacity="0.5" stroke-width="6" filter="url(#fbl)"/><line x1="442.6" y1="415.5" x2="106.16" y2="712.48" stroke="#4e2c2e" stroke-opacity="0.65" stroke-width="7" filter="url(#fbl)"/><line x1="442.6" y1="415.5" x2="144.96" y2="722.6" stroke="#4e2c2e" stroke-opacity="0.75" stroke-width="8" filter="url(#fbl)"/><line x1="442.6" y1="415.5" x2="178.95" y2="731.46" stroke="#4e2c2e" stroke-opacity="0.75" stroke-width="8" filter="url(#fbl)"/><line x1="442.6" y1="415.5" x2="202.19" y2="737.52" stroke="#4e2c2e" stroke-opacity="0.7" stroke-width="7" filter="url(#fbl)"/><line x1="442.6" y1="415.5" x2="225.82" y2="743.68" stroke="#4e2c2e" stroke-opacity="0.6" stroke-width="7" filter="url(#fbl)"/><line x1="442.6" y1="415.5" x2="247.42" y2="749.31" stroke="#4e2c2e" stroke-opacity="0.4" stroke-width="6" filter="url(#fbl)"/><line x1="442.6" y1="415.5" x2="68.3" y2="702.61" stroke="#ffffff" stroke-opacity="0.3" stroke-width="4.5" filter="url(#fbl2)"/><line x1="442.6" y1="415.5" x2="90.12" y2="708.3" stroke="#ffffff" stroke-opacity="0.4" stroke-width="4.5" filter="url(#fbl2)"/><line x1="442.6" y1="415.5" x2="120.01" y2="716.09" stroke="#ffffff" stroke-opacity="0.5" stroke-width="4.5" filter="url(#fbl2)"/><line x1="442.6" y1="415.5" x2="157.12" y2="725.77" stroke="#ffffff" stroke-opacity="0.5" stroke-width="4.5" filter="url(#fbl2)"/><line x1="442.6" y1="415.5" x2="188.01" y2="733.82" stroke="#ffffff" stroke-opacity="0.45" stroke-width="4.5" filter="url(#fbl2)"/><line x1="442.6" y1="415.5" x2="215.06" y2="740.87" stroke="#ffffff" stroke-opacity="0.4" stroke-width="4.5" filter="url(#fbl2)"/><line x1="442.6" y1="415.5" x2="237.69" y2="746.77" stroke="#ffffff" stroke-opacity="0.3" stroke-width="4.5" filter="url(#fbl2)"/></g></g>
<path d="M67.1,671.6 C69.18,672.08 75.08,673.28 79.6,674.5 C84.12,675.72 90.8,678.27 94.2,678.9 C97.6,679.53 97.57,677.7 100,678.3 C102.43,678.9 106.85,681.68 108.8,682.5 C110.75,683.32 110.48,683.32 111.7,683.2 C112.92,683.08 114.15,681.67 116.1,681.8 C118.05,681.93 120.72,682.72 123.4,684 C126.08,685.28 129.77,688.65 132.2,689.5 C134.63,690.35 135.33,689.48 138,689.1 C140.67,688.72 145.28,686.97 148.2,687.2 C151.12,687.43 152.47,688.73 155.5,690.5 C158.53,692.27 163.78,696.52 166.4,697.8 C169.02,699.08 168.52,698.52 171.2,698.2 C173.88,697.88 179.55,695.82 182.5,695.9 C185.45,695.98 186.23,697.35 188.9,698.7 C191.57,700.05 195.82,703.07 198.5,704 C201.18,704.93 203.12,704.47 205,704.3 C206.88,704.13 208.2,702.78 209.8,703 C211.4,703.22 212.73,704.72 214.6,705.6 C216.47,706.48 218.87,707.85 221,708.3 C223.13,708.75 225.25,708.03 227.4,708.3 C229.55,708.57 227.18,708.3 233.9,709.9 C240.62,711.5 262.07,716.57 267.7,717.9" fill="none" stroke="#2e2424" stroke-width="0.8"/>
<path d="M119.3,636 C120.05,636.22 120.87,636.72 123.8,637.3 C126.73,637.88 133.5,638.88 136.9,639.5 C140.3,640.12 142.02,640.83 144.2,641 C146.38,641.17 148.05,640.02 150,640.5 C151.95,640.98 154.43,643.22 155.9,643.9 C157.37,644.58 157.1,644.73 158.8,644.6 C160.5,644.47 163.67,642.85 166.1,643.1 C168.53,643.35 171.22,645.12 173.4,646.1 C175.58,647.08 177.02,648.65 179.2,649 C181.38,649.35 184.07,648.68 186.5,648.2 C188.93,647.72 191.12,645.73 193.8,646.1 C196.48,646.47 200.03,648.75 202.6,650.4 C205.17,652.05 207.18,655.18 209.2,656 C211.22,656.82 212.4,655.77 214.7,655.3 C217,654.83 220.45,652.98 223,653.2 C225.55,653.42 227.68,655.38 230,656.6 C232.32,657.82 234.83,660.03 236.9,660.5 C238.97,660.97 240.78,659.85 242.4,659.4 C244.02,658.95 244.97,657.62 246.6,657.8 C248.23,657.98 250.58,659.65 252.2,660.5 C253.82,661.35 254.68,662.62 256.3,662.9 C257.92,663.18 259.82,662.08 261.9,662.2 C263.98,662.32 263.17,662.4 268.8,663.6 C274.43,664.8 291.22,668.43 295.7,669.4" fill="none" stroke="#2e2424" stroke-width="0.8"/>
<line x1="34.5" y1="693.8" x2="249.3" y2="749.8" stroke="#5a4a4a" stroke-width="0.7"/>
<line x1="249.3" y1="749.8" x2="307.2" y2="649.6" stroke="#2a2a2a" stroke-width="0.7"/>
<line x1="249.3" y1="749.8" x2="246.7" y2="780.4" stroke="#2a2a2a" stroke-width="0.7"/>
<polyline points="38.4,723 34.5,693.8 142.3,620.3 307.2,649.6 304.5,674.9 246.7,780.4 38.4,723" fill="none" stroke="#1a1a1a" stroke-width="1.6" stroke-linejoin="round"/>
<line x1="167.2" y1="616.8" x2="167.2" y2="667.5" stroke="#333" stroke-width="0.6" stroke-dasharray="1.2,0.9"/>
<defs><filter id="fbeam" x="-20%" y="-20%" width="140%" height="140%"><feGaussianBlur stdDeviation="1.1"/></filter></defs>
<defs><linearGradient id="gbo0" gradientUnits="userSpaceOnUse" x1="92.0" y1="603.6" x2="167.0" y2="667.6"><stop offset="0" stop-color="#d8f8d0"/><stop offset="0.5" stop-color="#a8f09a"/><stop offset="1" stop-color="#4ee040"/></linearGradient><linearGradient id="gbi0" gradientUnits="userSpaceOnUse" x1="92.0" y1="603.6" x2="167.0" y2="667.6"><stop offset="0" stop-color="#c4f4bc"/><stop offset="0.5" stop-color="#96ec88"/><stop offset="1" stop-color="#38dc30"/></linearGradient></defs>
<line x1="92.0" y1="603.6" x2="167.0" y2="667.6" stroke="url(#gbo0)" stroke-width="3.6" stroke-opacity="0.85" filter="url(#fbeam)"/>
<line x1="92.0" y1="603.6" x2="167.0" y2="667.6" stroke="url(#gbi0)" stroke-width="1.4"/>
<defs><linearGradient id="gbo1" gradientUnits="userSpaceOnUse" x1="124.8" y1="577.4" x2="167.0" y2="667.6"><stop offset="0" stop-color="#d8f8d0"/><stop offset="0.5" stop-color="#a8f09a"/><stop offset="1" stop-color="#4ee040"/></linearGradient><linearGradient id="gbi1" gradientUnits="userSpaceOnUse" x1="124.8" y1="577.4" x2="167.0" y2="667.6"><stop offset="0" stop-color="#c4f4bc"/><stop offset="0.5" stop-color="#96ec88"/><stop offset="1" stop-color="#38dc30"/></linearGradient></defs>
<line x1="124.8" y1="577.4" x2="167.0" y2="667.6" stroke="url(#gbo1)" stroke-width="3.6" stroke-opacity="0.85" filter="url(#fbeam)"/>
<line x1="124.8" y1="577.4" x2="167.0" y2="667.6" stroke="url(#gbi1)" stroke-width="1.4"/>
<ellipse cx="167.0" cy="666.1" rx="7.5" ry="9" fill="url(#gfoc)" opacity="0.9"/>
<text x="0" y="0" font-family="Liberation Sans, sans-serif" font-size="11.6" text-anchor="start" font-weight="normal" font-style="normal" fill="#231f20" transform="translate(86.6,611.2) rotate(43)">Incident</text>
<text x="0" y="0" font-family="Liberation Sans, sans-serif" font-size="11.6" text-anchor="start" font-weight="normal" font-style="normal" fill="#231f20" transform="translate(112.2,579.4) rotate(60.5)">Scattered</text>
<text x="0" y="0" font-family="Liberation Sans, sans-serif" font-size="11.6" text-anchor="start" font-weight="normal" font-style="normal" fill="#231f20" transform="translate(203.8,601.2) rotate(7.3) skewX(-4)">Scattering plane</text>
<text x="349.6" y="582.2" font-family="Liberation Sans, sans-serif" font-size="13.5" text-anchor="start" font-weight="bold" font-style="normal" fill="#000" >f</text>
<path d="M374.2,696.03 L375.2,696.18 L376.2,696.3 L377.2,696.39 L378.2,696.45 L379.2,696.49 L380.2,696.5 L381.2,696.48 L382.2,696.43 L383.2,696.36 L384.2,696.25 L385.2,696.12 L386.2,695.97 L387.2,695.78 L388.2,695.58 L389.2,695.34 L390.2,695.09 L391.2,694.82 L392.2,694.52 L393.2,694.21 L394.2,693.88 L395.2,693.53 L396.2,693.17 L397.2,692.8 L398.2,692.42 L399.2,692.02 L400.2,691.63 L401.2,691.23 L402.2,690.82 L403.2,690.42 L404.2,690.01 L405.2,689.61 L406.2,689.22 L407.2,688.83 L408.2,688.45 L409.2,688.08 L410.2,687.73 L411.2,687.39 L412.2,687.07 L413.2,686.76 L414.2,686.47 L415.2,686.21 L416.2,685.96 L417.2,685.74 L418.2,685.54 L419.2,685.37 L420.2,685.22 L421.2,685.1 L422.2,685.01 L423.2,684.95 L424.2,684.91 L425.2,684.9 L426.2,684.92 L427.2,684.97 L428.2,685.04 L429.2,685.15 L430.2,685.28 L431.2,685.43 L432.2,685.62 L433.2,685.82 L434.2,686.06 L435.2,686.31 L436.2,686.58 L437.2,686.88 L438.2,687.19 L439.2,687.52 L440.2,687.87 L441.2,688.23 L442.2,688.6 L443.2,688.98 L444.2,689.38 L445.2,689.77 L446.2,690.17 L447.2,690.58 L448.2,690.98 L449.2,691.39 L450.2,691.79 L451.2,692.18 L452.2,692.57 L453.2,692.95 L454.2,693.32 L455.2,693.67 L456.2,694.01 L457.2,694.33 L458.2,694.64 L459.2,694.93 L460.2,695.19 L461.2,695.44 L462.2,695.66 L463.2,695.86 L464.2,696.03 L465.2,696.18 L466.2,696.3 L467.2,696.39 L468.2,696.45 L469.2,696.49 L470.2,696.5 L471.2,696.48 L472.2,696.43 L473.2,696.36 L474.2,696.25 L475.2,696.12 L476.2,695.97 L477.2,695.78 L478.2,695.58 L479.2,695.34 L480.2,695.09 L481.2,694.82 L482.2,694.52 L483.2,694.21 L484.2,693.88 L485.2,693.53 L486.2,693.17 L487.2,692.8 L488.2,692.42 L489.2,692.02 L490.2,691.63 L491.2,691.23 L492.2,690.82 L493.2,690.42 L494.2,690.01 L495.2,689.61 L496.2,689.22 L497.2,688.83 L498.2,688.45 L499.2,688.08 L500.2,687.73 L501.2,687.39 L502.2,687.07 L503.2,686.76 L504.2,686.47 L505.2,686.21 L506.2,685.96 L507.2,685.74 L508.2,685.54 L509.2,685.37 L510.2,685.22 L511.2,685.1 L512.2,685.01 L513.2,684.95 L514.2,684.91 L515.2,684.9 L516.2,684.92 L517.2,684.97 L518.2,685.04 L519.2,685.15 L520.2,685.28 L521.2,685.43 L522.2,685.62 L523.2,685.82 L524.2,686.06 L525.2,686.31 L526.2,686.58 L527.2,686.88 L528.2,687.19 L529.2,687.52 L530.2,687.87 L531.2,688.23 L532.2,688.6 L533.2,688.98 L534.2,689.38 L535.2,689.77 L536.2,690.17 L537.2,690.58 L538.2,690.98 L539.2,691.39 L540.2,691.79 L541.2,692.18 L542.2,692.57 L543.2,692.95 L544.2,693.32 L545.2,693.67 L546.2,694.01 L547.2,694.33 L548.2,694.64 L549.2,694.93 L550.2,695.19 L551.2,695.44 L552.2,695.66 L553.2,695.86 L554.2,696.03 L555.2,696.18 L556.2,696.3 L557.2,696.39 L558.2,696.45 L559.2,696.49 L560.2,696.5 L561.2,696.48 L562.2,696.43 L563.2,696.36 L564.2,696.25 L565.2,696.12 L566.2,695.97 L567.2,695.78 L568.2,695.58 L569.2,695.34 L570.2,695.09 L571.2,694.82 L572.2,694.52 L573.2,694.21 L574.2,693.88 L575.2,693.53 L576.2,693.17 L577.2,692.8 L578.2,692.42 L579.2,692.02 L580.2,691.63 L581.2,691.23 L582.2,690.82 L583.2,690.42 L584.2,690.01 L585.2,689.61 L586.2,689.22 L587.2,688.83 L588.2,688.45 L589.2,688.08 L590.2,687.73 L591.2,687.39 L592.2,687.07 L593.2,686.76 L594.2,686.47 L595.2,686.21 L596.2,685.96 L597.2,685.74 L598.2,685.54 L599.2,685.37 L600.2,685.22 L601.2,685.1 L602.2,685.01 L603.2,684.95 L604.2,684.91 L605.2,684.9 L606.2,684.92 L607.2,684.97 L608.2,685.04 L609.2,685.15 L610.2,685.28 L611.2,685.43 L612.2,685.62 L613.2,685.82 L614.2,686.06 L615.2,686.31 L616.2,686.58 L617.2,686.88 L618.2,687.19 L619.2,687.52 L620.2,687.87 L621.2,688.23 L622.2,688.6 L623.2,688.98 L624.2,689.38 L625.2,689.77 L626.2,690.17 L627.2,690.58 L628.2,690.98 L629.2,691.39 L630.2,691.79 L631.2,692.18 L632.2,692.57 L633.2,692.95 L634.2,693.32 L635.2,693.67 L636.2,694.01 L637.2,694.33 L638.2,694.64 L639.2,694.93 L640.2,695.19 L641.2,695.44 L642.2,695.66 L643.2,695.86 L644.2,696.03 L645.2,696.18 L646.2,696.3 L647.2,696.39 L648.2,696.45 L649.2,696.49 L650.2,696.5 L651.2,696.48 L652.2,696.43 L653.2,696.36 L654.2,696.25 L655.2,696.12 L656.0,777.6 L374.2,777.6 Z" fill="#f5b6c4"/>
<path d="M374.2,696.03 L375.2,696.18 L376.2,696.3 L377.2,696.39 L378.2,696.45 L379.2,696.49 L380.2,696.5 L381.2,696.48 L382.2,696.43 L383.2,696.36 L384.2,696.25 L385.2,696.12 L386.2,695.97 L387.2,695.78 L388.2,695.58 L389.2,695.34 L390.2,695.09 L391.2,694.82 L392.2,694.52 L393.2,694.21 L394.2,693.88 L395.2,693.53 L396.2,693.17 L397.2,692.8 L398.2,692.42 L399.2,692.02 L400.2,691.63 L401.2,691.23 L402.2,690.82 L403.2,690.42 L404.2,690.01 L405.2,689.61 L406.2,689.22 L407.2,688.83 L408.2,688.45 L409.2,688.08 L410.2,687.73 L411.2,687.39 L412.2,687.07 L413.2,686.76 L414.2,686.47 L415.2,686.21 L416.2,685.96 L417.2,685.74 L418.2,685.54 L419.2,685.37 L420.2,685.22 L421.2,685.1 L422.2,685.01 L423.2,684.95 L424.2,684.91 L425.2,684.9 L426.2,684.92 L427.2,684.97 L428.2,685.04 L429.2,685.15 L430.2,685.28 L431.2,685.43 L432.2,685.62 L433.2,685.82 L434.2,686.06 L435.2,686.31 L436.2,686.58 L437.2,686.88 L438.2,687.19 L439.2,687.52 L440.2,687.87 L441.2,688.23 L442.2,688.6 L443.2,688.98 L444.2,689.38 L445.2,689.77 L446.2,690.17 L447.2,690.58 L448.2,690.98 L449.2,691.39 L450.2,691.79 L451.2,692.18 L452.2,692.57 L453.2,692.95 L454.2,693.32 L455.2,693.67 L456.2,694.01 L457.2,694.33 L458.2,694.64 L459.2,694.93 L460.2,695.19 L461.2,695.44 L462.2,695.66 L463.2,695.86 L464.2,696.03 L465.2,696.18 L466.2,696.3 L467.2,696.39 L468.2,696.45 L469.2,696.49 L470.2,696.5 L471.2,696.48 L472.2,696.43 L473.2,696.36 L474.2,696.25 L475.2,696.12 L476.2,695.97 L477.2,695.78 L478.2,695.58 L479.2,695.34 L480.2,695.09 L481.2,694.82 L482.2,694.52 L483.2,694.21 L484.2,693.88 L485.2,693.53 L486.2,693.17 L487.2,692.8 L488.2,692.42 L489.2,692.02 L490.2,691.63 L491.2,691.23 L492.2,690.82 L493.2,690.42 L494.2,690.01 L495.2,689.61 L496.2,689.22 L497.2,688.83 L498.2,688.45 L499.2,688.08 L500.2,687.73 L501.2,687.39 L502.2,687.07 L503.2,686.76 L504.2,686.47 L505.2,686.21 L506.2,685.96 L507.2,685.74 L508.2,685.54 L509.2,685.37 L510.2,685.22 L511.2,685.1 L512.2,685.01 L513.2,684.95 L514.2,684.91 L515.2,684.9 L516.2,684.92 L517.2,684.97 L518.2,685.04 L519.2,685.15 L520.2,685.28 L521.2,685.43 L522.2,685.62 L523.2,685.82 L524.2,686.06 L525.2,686.31 L526.2,686.58 L527.2,686.88 L528.2,687.19 L529.2,687.52 L530.2,687.87 L531.2,688.23 L532.2,688.6 L533.2,688.98 L534.2,689.38 L535.2,689.77 L536.2,690.17 L537.2,690.58 L538.2,690.98 L539.2,691.39 L540.2,691.79 L541.2,692.18 L542.2,692.57 L543.2,692.95 L544.2,693.32 L545.2,693.67 L546.2,694.01 L547.2,694.33 L548.2,694.64 L549.2,694.93 L550.2,695.19 L551.2,695.44 L552.2,695.66 L553.2,695.86 L554.2,696.03 L555.2,696.18 L556.2,696.3 L557.2,696.39 L558.2,696.45 L559.2,696.49 L560.2,696.5 L561.2,696.48 L562.2,696.43 L563.2,696.36 L564.2,696.25 L565.2,696.12 L566.2,695.97 L567.2,695.78 L568.2,695.58 L569.2,695.34 L570.2,695.09 L571.2,694.82 L572.2,694.52 L573.2,694.21 L574.2,693.88 L575.2,693.53 L576.2,693.17 L577.2,692.8 L578.2,692.42 L579.2,692.02 L580.2,691.63 L581.2,691.23 L582.2,690.82 L583.2,690.42 L584.2,690.01 L585.2,689.61 L586.2,689.22 L587.2,688.83 L588.2,688.45 L589.2,688.08 L590.2,687.73 L591.2,687.39 L592.2,687.07 L593.2,686.76 L594.2,686.47 L595.2,686.21 L596.2,685.96 L597.2,685.74 L598.2,685.54 L599.2,685.37 L600.2,685.22 L601.2,685.1 L602.2,685.01 L603.2,684.95 L604.2,684.91 L605.2,684.9 L606.2,684.92 L607.2,684.97 L608.2,685.04 L609.2,685.15 L610.2,685.28 L611.2,685.43 L612.2,685.62 L613.2,685.82 L614.2,686.06 L615.2,686.31 L616.2,686.58 L617.2,686.88 L618.2,687.19 L619.2,687.52 L620.2,687.87 L621.2,688.23 L622.2,688.6 L623.2,688.98 L624.2,689.38 L625.2,689.77 L626.2,690.17 L627.2,690.58 L628.2,690.98 L629.2,691.39 L630.2,691.79 L631.2,692.18 L632.2,692.57 L633.2,692.95 L634.2,693.32 L635.2,693.67 L636.2,694.01 L637.2,694.33 L638.2,694.64 L639.2,694.93 L640.2,695.19 L641.2,695.44 L642.2,695.66 L643.2,695.86 L644.2,696.03 L645.2,696.18 L646.2,696.3 L647.2,696.39 L648.2,696.45 L649.2,696.49 L650.2,696.5 L651.2,696.48 L652.2,696.43 L653.2,696.36 L654.2,696.25 L655.2,696.12" fill="none" stroke="#000" stroke-width="2.1"/>
<line x1="514.8" y1="591.7" x2="514.8" y2="739.4" stroke="#000" stroke-width="2.1" stroke-dasharray="7.8,7.6"/>
<path d="M514.8,629.1 A55.5,55.5 0 0 0 483.36,638.86" fill="none" stroke="#f0602a" stroke-width="2.4" stroke-dasharray="6,3.2"/>
<path d="M514.8,652.1 A32.5,32.5 0 0 0 487.54,666.9" fill="none" stroke="#8cc84b" stroke-width="2.4" stroke-dasharray="6,3.2"/>
<path d="M403.6,608.8 L403.37,609.15 L403.51,609.47 L403.65,609.8 L403.79,610.14 L403.92,610.48 L404.05,610.82 L404.18,611.17 L404.31,611.52 L404.44,611.87 L404.56,612.22 L404.69,612.57 L404.82,612.92 L404.95,613.26 L405.09,613.6 L405.23,613.93 L405.38,614.25 L405.53,614.57 L405.68,614.87 L405.84,615.17 L406.01,615.46 L406.19,615.73 L406.38,615.99 L406.57,616.24 L406.78,616.48 L406.99,616.7 L407.21,616.91 L407.44,617.1 L407.68,617.28 L407.93,617.45 L408.19,617.6 L408.46,617.74 L408.74,617.86 L409.03,617.96 L409.33,618.06 L409.64,618.14 L409.95,618.21 L410.27,618.26 L410.6,618.31 L410.94,618.34 L411.29,618.37 L411.64,618.38 L411.99,618.39 L412.35,618.39 L412.72,618.38 L413.08,618.37 L413.45,618.36 L413.82,618.34 L414.2,618.33 L414.57,618.31 L414.94,618.29 L415.31,618.27 L415.68,618.26 L416.05,618.25 L416.41,618.25 L416.77,618.26 L417.12,618.27 L417.47,618.29 L417.81,618.32 L418.08,618.45 Z M422.83,621.61 L422.81,621.62 L422.97,621.93 L423.13,622.24 L423.27,622.56 L423.42,622.88 L423.55,623.22 L423.69,623.56 L423.82,623.9 L423.95,624.25 L424.08,624.6 L424.2,624.95 L424.33,625.3 L424.46,625.65 L424.59,626 L424.72,626.34 L424.85,626.68 L424.99,627.01 L425.14,627.34 L425.28,627.66 L425.44,627.97 L425.6,628.27 L425.77,628.56 L425.94,628.83 L426.12,629.1 L426.32,629.35 L426.52,629.6 L426.72,629.82 L426.94,630.04 L427.17,630.23 L427.41,630.42 L427.66,630.59 L427.91,630.74 L428.18,630.88 L428.46,631.01 L428.74,631.12 L429.04,631.22 L429.34,631.31 L429.65,631.38 L429.97,631.44 L430.3,631.49 L430.64,631.52 L430.98,631.55 L431.33,631.57 L431.68,631.58 L432.04,631.58 L432.4,631.58 L432.77,631.57 L433.14,631.56 L433.51,631.54 L433.88,631.53 L434.25,631.51 L434.63,631.49 L435,631.47 L435.37,631.46 L435.73,631.45 L436.1,631.45 L436.46,631.45 L436.81,631.46 L437.16,631.47 L437.5,631.5 L437.81,631.58 Z M442.8,634.91 L442.73,635.02 L442.88,635.33 L443.03,635.64 L443.18,635.97 L443.32,636.3 L443.45,636.64 L443.58,636.98 L443.71,637.33 L443.84,637.68 L443.97,638.03 L444.1,638.38 L444.22,638.73 L444.35,639.07 L444.48,639.42 L444.62,639.76 L444.75,640.1 L444.9,640.42 L445.04,640.74 L445.19,641.06 L445.35,641.36 L445.52,641.65 L445.69,641.94 L445.87,642.21 L446.06,642.47 L446.26,642.71 L446.46,642.94 L446.68,643.16 L446.9,643.36 L447.14,643.55 L447.38,643.73 L447.63,643.89 L447.9,644.03 L448.17,644.16 L448.45,644.28 L448.75,644.38 L449.05,644.47 L449.36,644.55 L449.67,644.61 L450,644.67 L450.33,644.71 L450.67,644.74 L451.02,644.76 L451.37,644.77 L451.73,644.78 L452.09,644.78 L452.45,644.77 L452.82,644.76 L453.19,644.74 L453.57,644.72 L453.94,644.71 L454.31,644.69 L454.68,644.67 L455.05,644.66 L455.42,644.65 L455.78,644.64 L456.14,644.64 L456.5,644.65 L456.85,644.66 L457.2,644.68 L457.53,644.72 Z M462.53,648.05 L462.48,648.11 L462.64,648.41 L462.79,648.73 L462.94,649.05 L463.08,649.38 L463.22,649.72 L463.35,650.06 L463.48,650.4 L463.61,650.75 L463.74,651.1 L463.86,651.45 L463.99,651.8 L464.12,652.15 L464.25,652.5 L464.38,652.84 L464.52,653.18 L464.66,653.51 L464.8,653.83 L464.95,654.15 L465.11,654.45 L465.27,654.75 L465.44,655.04 L465.62,655.31 L465.8,655.57 L466,655.82 L466.2,656.06 L466.41,656.28 L466.63,656.49 L466.87,656.68 L467.11,656.86 L467.36,657.03 L467.62,657.18 L467.89,657.32 L468.17,657.44 L468.46,657.54 L468.75,657.64 L469.06,657.72 L469.38,657.79 L469.7,657.84 L470.03,657.89 L470.37,657.92 L470.71,657.95 L471.06,657.96 L471.42,657.97 L471.78,657.97 L472.14,657.96 L472.51,657.95 L472.88,657.94 L473.25,657.92 L473.62,657.91 L473.99,657.89 L474.37,657.87 L474.74,657.86 L475.11,657.84 L475.47,657.84 L475.83,657.83 L476.19,657.84 L476.54,657.85 L476.89,657.87 L477.23,657.9 L477.51,658.03 Z M482.25,661.19 L482.24,661.2 L482.4,661.51 L482.55,661.82 L482.7,662.14 L482.84,662.46 L482.98,662.8 L483.11,663.14 L483.24,663.48 L483.37,663.83 L483.5,664.18 L483.63,664.53 L483.75,664.88 L483.88,665.23 L484.01,665.58 L484.14,665.92 L484.28,666.26 L484.42,666.59 L484.56,666.92 L484.71,667.24 L484.86,667.55 L485.02,667.85 L485.19,668.14 L485.37,668.41 L485.55,668.68 L485.74,668.94 L485.94,669.18 L486.15,669.4 L486.37,669.62 L486.6,669.82 L486.83,670 L487.08,670.17 L487.34,670.32 L487.6,670.47 L487.88,670.59 L488.17,670.7 L488.46,670.8 L488.77,670.89 L489.08,670.96 L489.4,671.02 L489.73,671.07 L490.06,671.11 L490.4,671.13 L490.75,671.15 L491.11,671.16 L491.47,671.16 L491.83,671.16 L492.19,671.15 L492.56,671.14 L492.93,671.12 L493.31,671.11 L493.68,671.09 L494.05,671.07 L494.42,671.05 L494.79,671.04 L495.16,671.03 L495.52,671.03 L495.88,671.03 L496.24,671.04 L496.58,671.05 L496.93,671.08 L497.23,671.16 Z" fill="#8cc84b"/>
<path d="M403.37,609.15 L403.51,609.47 L403.65,609.8 L403.79,610.14 L403.92,610.48 L404.05,610.82 L404.18,611.17 L404.31,611.52 L404.44,611.87 L404.56,612.22 L404.69,612.57 L404.82,612.92 L404.95,613.26 L405.09,613.6 L405.23,613.93 L405.38,614.25 L405.53,614.57 L405.68,614.87 L405.84,615.17 L406.01,615.46 L406.19,615.73 L406.38,615.99 L406.57,616.24 L406.78,616.48 L406.99,616.7 L407.21,616.91 L407.44,617.1 L407.68,617.28 L407.93,617.45 L408.19,617.6 L408.46,617.74 L408.74,617.86 L409.03,617.96 L409.33,618.06 L409.64,618.14 L409.95,618.21 L410.27,618.26 L410.6,618.31 L410.94,618.34 L411.29,618.37 L411.64,618.38 L411.99,618.39 L412.35,618.39 L412.72,618.38 L413.08,618.37 L413.45,618.36 L413.82,618.34 L414.2,618.33 L414.57,618.31 L414.94,618.29 L415.31,618.27 L415.68,618.26 L416.05,618.25 L416.41,618.25 L416.77,618.26 L417.12,618.27 L417.47,618.29 L417.81,618.32 L418.14,618.36 L418.47,618.41 L418.79,618.47 L419.1,618.54 L419.4,618.63 L419.69,618.73 L419.98,618.85 L420.25,618.98 L420.52,619.12 L420.77,619.28 L421.02,619.45 L421.25,619.64 L421.48,619.84 L421.7,620.05 L421.9,620.28 L422.1,620.53 L422.29,620.78 L422.47,621.05 L422.65,621.33 L422.81,621.62 L422.97,621.93 L423.13,622.24 L423.27,622.56 L423.42,622.88 L423.55,623.22 L423.69,623.56 L423.82,623.9 L423.95,624.25 L424.08,624.6 L424.2,624.95 L424.33,625.3 L424.46,625.65 L424.59,626 L424.72,626.34 L424.85,626.68 L424.99,627.01 L425.14,627.34 L425.28,627.66 L425.44,627.97 L425.6,628.27 L425.77,628.56 L425.94,628.83 L426.12,629.1 L426.32,629.35 L426.52,629.6 L426.72,629.82 L426.94,630.04 L427.17,630.23 L427.41,630.42 L427.66,630.59 L427.91,630.74 L428.18,630.88 L428.46,631.01 L428.74,631.12 L429.04,631.22 L429.34,631.31 L429.65,631.38 L429.97,631.44 L430.3,631.49 L430.64,631.52 L430.98,631.55 L431.33,631.57 L431.68,631.58 L432.04,631.58 L432.4,631.58 L432.77,631.57 L433.14,631.56 L433.51,631.54 L433.88,631.53 L434.25,631.51 L434.63,631.49 L435,631.47 L435.37,631.46 L435.73,631.45 L436.1,631.45 L436.46,631.45 L436.81,631.46 L437.16,631.47 L437.5,631.5 L437.84,631.54 L438.17,631.58 L438.49,631.64 L438.8,631.71 L439.11,631.79 L439.41,631.89 L439.69,632 L439.97,632.12 L440.24,632.26 L440.5,632.42 L440.75,632.58 L440.98,632.77 L441.21,632.96 L441.43,633.17 L441.64,633.4 L441.85,633.64 L442.04,633.89 L442.22,634.15 L442.4,634.43 L442.57,634.72 L442.73,635.02 L442.88,635.33 L443.03,635.64 L443.18,635.97 L443.32,636.3 L443.45,636.64 L443.58,636.98 L443.71,637.33 L443.84,637.68 L443.97,638.03 L444.1,638.38 L444.22,638.73 L444.35,639.07 L444.48,639.42 L444.62,639.76 L444.75,640.1 L444.9,640.42 L445.04,640.74 L445.19,641.06 L445.35,641.36 L445.52,641.65 L445.69,641.94 L445.87,642.21 L446.06,642.47 L446.26,642.71 L446.46,642.94 L446.68,643.16 L446.9,643.36 L447.14,643.55 L447.38,643.73 L447.63,643.89 L447.9,644.03 L448.17,644.16 L448.45,644.28 L448.75,644.38 L449.05,644.47 L449.36,644.55 L449.67,644.61 L450,644.67 L450.33,644.71 L450.67,644.74 L451.02,644.76 L451.37,644.77 L451.73,644.78 L452.09,644.78 L452.45,644.77 L452.82,644.76 L453.19,644.74 L453.57,644.72 L453.94,644.71 L454.31,644.69 L454.68,644.67 L455.05,644.66 L455.42,644.65 L455.78,644.64 L456.14,644.64 L456.5,644.65 L456.85,644.66 L457.2,644.68 L457.54,644.72 L457.87,644.76 L458.19,644.81 L458.51,644.88 L458.82,644.96 L459.12,645.05 L459.41,645.16 L459.69,645.27 L459.96,645.41 L460.22,645.56 L460.47,645.72 L460.71,645.9 L460.95,646.09 L461.17,646.29 L461.38,646.52 L461.59,646.75 L461.78,647 L461.97,647.26 L462.15,647.53 L462.32,647.81 L462.48,648.11 L462.64,648.41 L462.79,648.73 L462.94,649.05 L463.08,649.38 L463.22,649.72 L463.35,650.06 L463.48,650.4 L463.61,650.75 L463.74,651.1 L463.86,651.45 L463.99,651.8 L464.12,652.15 L464.25,652.5 L464.38,652.84 L464.52,653.18 L464.66,653.51 L464.8,653.83 L464.95,654.15 L465.11,654.45 L465.27,654.75 L465.44,655.04 L465.62,655.31 L465.8,655.57 L466,655.82 L466.2,656.06 L466.41,656.28 L466.63,656.49 L466.87,656.68 L467.11,656.86 L467.36,657.03 L467.62,657.18 L467.89,657.32 L468.17,657.44 L468.46,657.54 L468.75,657.64 L469.06,657.72 L469.38,657.79 L469.7,657.84 L470.03,657.89 L470.37,657.92 L470.71,657.95 L471.06,657.96 L471.42,657.97 L471.78,657.97 L472.14,657.96 L472.51,657.95 L472.88,657.94 L473.25,657.92 L473.62,657.91 L473.99,657.89 L474.37,657.87 L474.74,657.86 L475.11,657.84 L475.47,657.84 L475.83,657.83 L476.19,657.84 L476.54,657.85 L476.89,657.87 L477.23,657.9 L477.57,657.94 L477.89,657.99 L478.21,658.05 L478.52,658.12 L478.83,658.21 L479.12,658.31 L479.4,658.43 L479.68,658.56 L479.94,658.7 L480.2,658.86 L480.44,659.03 L480.68,659.22 L480.91,659.42 L481.12,659.63 L481.33,659.86 L481.53,660.11 L481.72,660.36 L481.9,660.63 L482.07,660.91 L482.24,661.2 L482.4,661.51 L482.55,661.82 L482.7,662.14 L482.84,662.46 L482.98,662.8 L483.11,663.14 L483.24,663.48 L483.37,663.83 L483.5,664.18 L483.63,664.53 L483.75,664.88 L483.88,665.23 L484.01,665.58 L484.14,665.92 L484.28,666.26 L484.42,666.59 L484.56,666.92 L484.71,667.24 L484.86,667.55 L485.02,667.85 L485.19,668.14 L485.37,668.41 L485.55,668.68 L485.74,668.94 L485.94,669.18 L486.15,669.4 L486.37,669.62 L486.6,669.82 L486.83,670 L487.08,670.17 L487.34,670.32 L487.6,670.47 L487.88,670.59 L488.17,670.7 L488.46,670.8 L488.77,670.89 L489.08,670.96 L489.4,671.02 L489.73,671.07 L490.06,671.11 L490.4,671.13 L490.75,671.15 L491.11,671.16 L491.47,671.16 L491.83,671.16 L492.19,671.15 L492.56,671.14 L492.93,671.12 L493.31,671.11 L493.68,671.09 L494.05,671.07 L494.42,671.05 L494.79,671.04 L495.16,671.03 L495.52,671.03 L495.88,671.03 L496.24,671.04 L496.58,671.05 L496.93,671.08 L497.26,671.12 L497.59,671.16 L497.92,671.22 L498.23,671.29 L498.53,671.37 L498.83,671.47 L499.12,671.58 L499.4,671.7 L499.66,671.84 L499.92,672 L500.17,672.16 L500.41,672.35 L500.64,672.54 L500.86,672.75 L501.07,672.98 L501.27,673.22 L501.46,673.47 L501.65,673.73 L501.82,674.01 L507.61,678.07" fill="none" stroke="#000" stroke-width="2.1" stroke-linejoin="round" stroke-linecap="round"/>
<path d="M512.6,681.4 L503.31,680.02 L507.65,678.1 L507.74,673.36 Z" fill="#000"/>
<path d="M513.8,681.6 L512.14,682.72 L511.76,682.61 L511.38,682.5 L511.01,682.39 L510.64,682.28 L510.27,682.16 L509.92,682.04 L509.57,681.91 L509.24,681.77 L508.92,681.63 L508.62,681.47 L508.33,681.3 L508.06,681.12 L507.8,680.93 L507.57,680.73 L507.35,680.52 L507.15,680.29 L506.97,680.05 L506.81,679.79 L506.67,679.52 L506.55,679.24 L506.45,678.95 L506.37,678.64 L506.3,678.33 L506.25,678 L506.22,677.66 L506.2,677.31 L506.2,676.95 L506.2,676.59 L506.22,676.21 L506.25,675.83 L506.28,675.45 L506.32,675.06 L506.37,674.67 L506.41,674.28 L506.46,673.88 L506.5,673.49 L506.54,673.1 L506.58,672.72 L506.61,672.34 L506.63,671.96 L506.64,671.59 L506.64,671.23 L506.6,670.9 Z M503.76,666.66 L503.71,666.7 L503.38,666.56 L503.04,666.42 L502.69,666.3 L502.33,666.18 L501.96,666.06 L501.59,665.95 L501.21,665.85 L500.83,665.74 L500.45,665.63 L500.07,665.53 L499.69,665.42 L499.32,665.31 L498.95,665.19 L498.6,665.07 L498.25,664.94 L497.91,664.81 L497.59,664.67 L497.28,664.51 L496.98,664.35 L496.71,664.17 L496.45,663.99 L496.2,663.79 L495.98,663.58 L495.77,663.35 L495.59,663.12 L495.42,662.87 L495.28,662.6 L495.15,662.33 L495.04,662.04 L494.95,661.74 L494.88,661.42 L494.83,661.1 L494.79,660.76 L494.77,660.42 L494.76,660.06 L494.76,659.7 L494.78,659.33 L494.8,658.95 L494.83,658.57 L494.87,658.18 L494.91,657.79 L494.96,657.4 L495,657 L495.05,656.61 L495.09,656.22 L495.13,655.83 L495.16,655.45 L495.19,655.07 L495.2,654.7 L495.2,654.34 L495.19,653.98 L495.05,653.72 Z M492.2,649.49 L492.05,649.59 L491.71,649.45 L491.37,649.33 L491.01,649.21 L490.64,649.09 L490.27,648.98 L489.89,648.87 L489.51,648.76 L489.13,648.66 L488.75,648.55 L488.37,648.45 L488,648.34 L487.63,648.22 L487.27,648.1 L486.92,647.98 L486.58,647.84 L486.25,647.7 L485.94,647.55 L485.64,647.39 L485.36,647.22 L485.09,647.04 L484.84,646.85 L484.61,646.64 L484.4,646.42 L484.21,646.19 L484.04,645.94 L483.88,645.68 L483.75,645.41 L483.64,645.13 L483.54,644.83 L483.46,644.52 L483.4,644.2 L483.36,643.86 L483.33,643.52 L483.32,643.17 L483.32,642.81 L483.33,642.44 L483.35,642.06 L483.38,641.68 L483.42,641.3 L483.46,640.91 L483.5,640.52 L483.55,640.12 L483.59,639.73 L483.64,639.34 L483.68,638.95 L483.71,638.57 L483.74,638.19 L483.76,637.81 L483.76,637.45 L483.76,637.09 L483.67,636.79 Z M480.82,632.56 L480.72,632.63 L480.39,632.49 L480.04,632.36 L479.69,632.23 L479.33,632.12 L478.96,632 L478.58,631.9 L478.2,631.79 L477.82,631.68 L477.44,631.58 L477.06,631.47 L476.69,631.36 L476.32,631.25 L475.95,631.13 L475.6,631.01 L475.25,630.88 L474.92,630.74 L474.6,630.59 L474.3,630.44 L474.01,630.27 L473.74,630.09 L473.48,629.9 L473.25,629.7 L473.03,629.48 L472.83,629.25 L472.65,629.01 L472.49,628.76 L472.35,628.49 L472.23,628.21 L472.13,627.92 L472.05,627.61 L471.98,627.29 L471.93,626.97 L471.9,626.63 L471.88,626.28 L471.88,625.92 L471.88,625.55 L471.9,625.18 L471.93,624.8 L471.96,624.41 L472,624.03 L472.05,623.64 L472.09,623.24 L472.14,622.85 L472.18,622.46 L472.22,622.07 L472.26,621.68 L472.29,621.3 L472.31,620.93 L472.32,620.56 L472.32,620.2 L472.28,619.86 Z M469.43,615.63 L469.39,615.66 L469.06,615.52 L468.72,615.39 L468.37,615.26 L468.01,615.14 L467.64,615.03 L467.27,614.92 L466.89,614.81 L466.51,614.71 L466.13,614.6 L465.75,614.5 L465.37,614.39 L465,614.28 L464.63,614.16 L464.27,614.04 L463.93,613.91 L463.59,613.78 L463.27,613.63 L462.96,613.48 L462.66,613.32 L462.39,613.14 L462.13,612.95 L461.88,612.76 L461.66,612.55 L461.45,612.32 L461.27,612.08 L461.1,611.83 L460.96,611.57 L460.83,611.29 L460.72,611.01 L460.63,610.7 L460.56,610.39 L460.51,610.07 L460.47,609.73 L460.45,609.38 L460.44,609.03 L460.44,608.66 L460.46,608.29 L460.48,607.91 L460.51,607.53 L460.55,607.14 L460.59,606.75 L460.64,606.36 L460.68,605.97 L460.73,605.58 L460.77,605.19 L460.81,604.8 L460.84,604.42 L460.86,604.04 L460.88,603.67 L460.88,603.31 L460.87,602.95 L460.73,602.69 Z M457.88,598.45 L457.73,598.56 L457.39,598.42 L457.05,598.29 L456.69,598.17 L456.32,598.06 L455.95,597.95 L455.57,597.84 L455.19,597.73 L454.81,597.63 L454.43,597.52 L454.05,597.41 L453.68,597.3 L453.31,597.19 L452.95,597.07 L452.6,596.94 L452.26,596.81 L451.93,596.67 L451.62,596.52 L451.32,596.36 L451.04,596.19 L450.77,596.01 L450.52,595.81 L450.29,595.61 L450.08,595.39 L449.89,595.15 L449.72,594.91 L449.56,594.65 L449.43,594.38 L449.32,594.09 L449.22,593.79 L449.14,593.49 L449.08,593.16 L449.04,592.83 L449.01,592.49 L449,592.14 L449,591.78 L449.01,591.41 L449.03,591.03 L449.06,590.65 L449.1,590.26 L449.14,589.87 L449.18,589.48 L449.23,589.09 L449.27,588.7 L449.32,588.31 L449.36,587.92 L449.39,587.53 Z" fill="#f0602a"/>
<path d="M512.14,682.72 L511.76,682.61 L511.38,682.5 L511.01,682.39 L510.64,682.28 L510.27,682.16 L509.92,682.04 L509.57,681.91 L509.24,681.77 L508.92,681.63 L508.62,681.47 L508.33,681.3 L508.06,681.12 L507.8,680.93 L507.57,680.73 L507.35,680.52 L507.15,680.29 L506.97,680.05 L506.81,679.79 L506.67,679.52 L506.55,679.24 L506.45,678.95 L506.37,678.64 L506.3,678.33 L506.25,678 L506.22,677.66 L506.2,677.31 L506.2,676.95 L506.2,676.59 L506.22,676.21 L506.25,675.83 L506.28,675.45 L506.32,675.06 L506.37,674.67 L506.41,674.28 L506.46,673.88 L506.5,673.49 L506.54,673.1 L506.58,672.72 L506.61,672.34 L506.63,671.96 L506.64,671.59 L506.64,671.23 L506.63,670.88 L506.6,670.53 L506.56,670.2 L506.5,669.88 L506.42,669.57 L506.32,669.27 L506.21,668.99 L506.08,668.72 L505.93,668.46 L505.75,668.21 L505.56,667.98 L505.35,667.76 L505.12,667.55 L504.87,667.36 L504.6,667.18 L504.32,667.01 L504.02,666.85 L503.71,666.7 L503.38,666.56 L503.04,666.42 L502.69,666.3 L502.33,666.18 L501.96,666.06 L501.59,665.95 L501.21,665.85 L500.83,665.74 L500.45,665.63 L500.07,665.53 L499.69,665.42 L499.32,665.31 L498.95,665.19 L498.6,665.07 L498.25,664.94 L497.91,664.81 L497.59,664.67 L497.28,664.51 L496.98,664.35 L496.71,664.17 L496.45,663.99 L496.2,663.79 L495.98,663.58 L495.77,663.35 L495.59,663.12 L495.42,662.87 L495.28,662.6 L495.15,662.33 L495.04,662.04 L494.95,661.74 L494.88,661.42 L494.83,661.1 L494.79,660.76 L494.77,660.42 L494.76,660.06 L494.76,659.7 L494.78,659.33 L494.8,658.95 L494.83,658.57 L494.87,658.18 L494.91,657.79 L494.96,657.4 L495,657 L495.05,656.61 L495.09,656.22 L495.13,655.83 L495.16,655.45 L495.19,655.07 L495.2,654.7 L495.2,654.34 L495.19,653.98 L495.17,653.64 L495.13,653.3 L495.08,652.98 L495.01,652.66 L494.92,652.36 L494.81,652.07 L494.68,651.79 L494.54,651.53 L494.37,651.28 L494.19,651.04 L493.98,650.82 L493.76,650.61 L493.52,650.41 L493.25,650.23 L492.98,650.05 L492.68,649.89 L492.37,649.73 L492.05,649.59 L491.71,649.45 L491.37,649.33 L491.01,649.21 L490.64,649.09 L490.27,648.98 L489.89,648.87 L489.51,648.76 L489.13,648.66 L488.75,648.55 L488.37,648.45 L488,648.34 L487.63,648.22 L487.27,648.1 L486.92,647.98 L486.58,647.84 L486.25,647.7 L485.94,647.55 L485.64,647.39 L485.36,647.22 L485.09,647.04 L484.84,646.85 L484.61,646.64 L484.4,646.42 L484.21,646.19 L484.04,645.94 L483.88,645.68 L483.75,645.41 L483.64,645.13 L483.54,644.83 L483.46,644.52 L483.4,644.2 L483.36,643.86 L483.33,643.52 L483.32,643.17 L483.32,642.81 L483.33,642.44 L483.35,642.06 L483.38,641.68 L483.42,641.3 L483.46,640.91 L483.5,640.52 L483.55,640.12 L483.59,639.73 L483.64,639.34 L483.68,638.95 L483.71,638.57 L483.74,638.19 L483.76,637.81 L483.76,637.45 L483.76,637.09 L483.74,636.74 L483.71,636.4 L483.66,636.07 L483.59,635.75 L483.51,635.45 L483.41,635.16 L483.29,634.87 L483.15,634.61 L482.99,634.35 L482.81,634.11 L482.61,633.88 L482.39,633.67 L482.16,633.47 L481.9,633.28 L481.63,633.1 L481.34,632.93 L481.04,632.77 L480.72,632.63 L480.39,632.49 L480.04,632.36 L479.69,632.23 L479.33,632.12 L478.96,632 L478.58,631.9 L478.2,631.79 L477.82,631.68 L477.44,631.58 L477.06,631.47 L476.69,631.36 L476.32,631.25 L475.95,631.13 L475.6,631.01 L475.25,630.88 L474.92,630.74 L474.6,630.59 L474.3,630.44 L474.01,630.27 L473.74,630.09 L473.48,629.9 L473.25,629.7 L473.03,629.48 L472.83,629.25 L472.65,629.01 L472.49,628.76 L472.35,628.49 L472.23,628.21 L472.13,627.92 L472.05,627.61 L471.98,627.29 L471.93,626.97 L471.9,626.63 L471.88,626.28 L471.88,625.92 L471.88,625.55 L471.9,625.18 L471.93,624.8 L471.96,624.41 L472,624.03 L472.05,623.64 L472.09,623.24 L472.14,622.85 L472.18,622.46 L472.22,622.07 L472.26,621.68 L472.29,621.3 L472.31,620.93 L472.32,620.56 L472.32,620.2 L472.31,619.84 L472.28,619.5 L472.24,619.17 L472.18,618.85 L472.1,618.54 L472,618.24 L471.89,617.96 L471.76,617.68 L471.6,617.42 L471.43,617.18 L471.24,616.95 L471.03,616.73 L470.8,616.52 L470.55,616.33 L470.28,616.14 L470,615.97 L469.7,615.81 L469.39,615.66 L469.06,615.52 L468.72,615.39 L468.37,615.26 L468.01,615.14 L467.64,615.03 L467.27,614.92 L466.89,614.81 L466.51,614.71 L466.13,614.6 L465.75,614.5 L465.37,614.39 L465,614.28 L464.63,614.16 L464.27,614.04 L463.93,613.91 L463.59,613.78 L463.27,613.63 L462.96,613.48 L462.66,613.32 L462.39,613.14 L462.13,612.95 L461.88,612.76 L461.66,612.55 L461.45,612.32 L461.27,612.08 L461.1,611.83 L460.96,611.57 L460.83,611.29 L460.72,611.01 L460.63,610.7 L460.56,610.39 L460.51,610.07 L460.47,609.73 L460.45,609.38 L460.44,609.03 L460.44,608.66 L460.46,608.29 L460.48,607.91 L460.51,607.53 L460.55,607.14 L460.59,606.75 L460.64,606.36 L460.68,605.97 L460.73,605.58 L460.77,605.19 L460.81,604.8 L460.84,604.42 L460.86,604.04 L460.88,603.67 L460.88,603.31 L460.87,602.95 L460.85,602.6 L460.81,602.27 L460.76,601.94 L460.69,601.63 L460.6,601.33 L460.49,601.04 L460.36,600.76 L460.22,600.5 L460.05,600.25 L459.87,600.01 L459.66,599.79 L459.44,599.58 L459.2,599.38 L458.93,599.19 L458.66,599.02 L458.36,598.85 L458.05,598.7 L457.73,598.56 L457.39,598.42 L457.05,598.29 L456.69,598.17 L456.32,598.06 L455.95,597.95 L455.57,597.84 L455.19,597.73 L454.81,597.63 L454.43,597.52 L454.05,597.41 L453.68,597.3 L453.31,597.19 L452.95,597.07 L452.6,596.94 L452.26,596.81 L451.93,596.67 L451.62,596.52 L451.32,596.36 L451.04,596.19 L450.77,596.01 L450.52,595.81 L450.29,595.61 L450.08,595.39 L449.89,595.15 L449.72,594.91 L449.56,594.65 L449.43,594.38 L449.32,594.09 L449.22,593.79 L449.14,593.49 L449.08,593.16 L449.04,592.83 L449.01,592.49 L449,592.14 L449,591.78 L449.01,591.41 L449.03,591.03 L449.06,590.65 L449.1,590.26 L449.14,589.87 L449.18,589.48 L449.23,589.09 L449.27,588.7 L449.32,588.31 L449.36,587.92 L449.39,587.53 L444.25,578.18" fill="none" stroke="#000" stroke-width="2.1" stroke-linejoin="round" stroke-linecap="round"/>
<path d="M440.9,573.2 L448.96,578.02 L444.22,578.14 L442.32,582.49 Z" fill="#000"/>
<text font-family="Liberation Sans, sans-serif" font-size="11.6" fill="#231f20" transform="translate(412.2,602.8) rotate(40)"><tspan font-weight="bold">k</tspan><tspan font-size="8.4" dy="2.4">i</tspan><tspan dy="-2.4">, </tspan><tspan font-family="Liberation Serif, serif" font-style="italic" font-size="12.18">ω</tspan><tspan font-size="8.352" dy="2.2">i</tspan></text>
<text font-family="Liberation Sans, sans-serif" font-size="11.6" fill="#231f20" transform="translate(453.2,575.6) rotate(58)"><tspan font-weight="bold">k</tspan><tspan font-size="8.4" dy="2.4">s</tspan><tspan dy="-2.4">, </tspan><tspan font-family="Liberation Serif, serif" font-style="italic" font-size="12.18">ω</tspan><tspan font-size="8.352" dy="2.2">s</tspan></text>
<text x="494.8" y="623.8" font-family="Liberation Serif, serif" font-style="italic" font-size="13.5" fill="#f0602a">θ<tspan font-family="Liberation Sans, sans-serif" font-style="normal" font-size="8.6" dy="2.4">s</tspan></text>
<text x="503.6" y="645.2" font-family="Liberation Serif, serif" font-style="italic" font-size="13.5" fill="#7fba4a">θ<tspan font-family="Liberation Sans, sans-serif" font-style="normal" font-size="8.6" dy="2.4">i</tspan></text>
<path d="M515,685.95 L515.4,685.59 L515.8,685.25 L516.2,684.96 L516.6,684.73 L517,684.55 L517.4,684.44 L517.8,684.4 L518.2,684.43 L518.6,684.53 L519,684.7 L519.4,684.92 L519.8,685.2 L520.2,685.53 L520.6,685.89 L521,686.27 L521.4,686.67 L521.8,687.06 L522.2,687.44 L522.6,687.79 L523,688.1 L523.4,688.36 L523.8,688.57 L524.2,688.71 L524.6,688.79 L525,688.79 L525.4,688.73 L525.8,688.6 L526.2,688.4 L526.6,688.14 L527,687.84 L527.4,687.49 L527.8,687.12 L528.2,686.73 L528.6,686.34 L529,685.95 L529.4,685.59 L529.8,685.25 L530.2,684.96 L530.6,684.73 L531,684.55 L531.4,684.44 L531.8,684.4 L532.2,684.43 L532.6,684.53 L533,684.7 L533.4,684.92 L533.8,685.2 L534.2,685.53 L534.6,685.89 L535,686.27 L535.4,686.67 L535.8,687.06 L536.2,687.44 L536.6,687.79 L537,688.1 L537.4,688.36 L537.8,688.57 L538.2,688.71 L538.6,688.79 L539,688.79 L539.4,688.73 L539.8,688.6 L540.2,688.4 L540.6,688.14 L541,687.84 L541.4,687.49 L541.8,687.12 L542.2,686.73 L542.6,686.34 L543,685.95 L543.4,685.59 L543.8,685.25 L544.2,684.96 L544.6,684.73 L545,684.55 L545.4,684.44 L545.8,684.4 L546.2,684.43 L546.6,684.53 L547,684.7 L547.4,684.92 L547.8,685.2 L548.2,685.53 L548.6,685.89 L549,686.27 L549.4,686.67 L549.8,687.06 L550.2,687.44 L550.6,687.79 L551,688.1 L551.4,688.36 L551.8,688.57 L552.2,688.71 L552.6,688.79 L553,688.79 L553.4,688.73 L553.8,688.6 L554.2,688.4 L554.6,688.14 L555,687.84 L555.4,687.49 L555.8,687.12 L556.2,686.73 L556.6,686.34 L557,685.95 L557.4,685.59 L557.8,685.25 L558.2,684.96 L558.6,684.73 L559,684.55 L559.4,684.44 L559.8,684.4 L560.2,684.43 L560.6,684.53 L561,684.7 L561.4,684.92 L561.8,685.2 L562.2,685.53 L562.6,685.89 L563,686.27 L563.4,686.67 L563.8,687.06 L564.2,687.44 L564.6,687.79 L565,688.1 L565.4,688.36 L565.8,688.57 L566.2,688.71 L566.6,688.79 L567,688.79 L567.4,688.73 L567.8,688.6 L568.2,688.4 L568.6,688.14 L569,687.84 L569.4,687.49 L569.8,687.12 L570.2,686.73 L570.6,686.34 L571,685.95 L571.4,685.59 L571.8,685.25 L572.2,684.96 L572.6,684.73 L573,684.55 L573.4,684.44 L573.8,684.4 L574.2,684.43 L574.6,684.53 L575,684.7 L575.4,684.92 L575.8,685.2 L576.2,685.53 L576.6,685.89 L577,686.27 L577.4,686.67 L577.8,687.06 L578.2,687.44 L578.6,687.79 L579,688.1 L579.4,688.36 L579.8,688.57 L580.2,688.71 L580.6,688.79 L581,688.79 L581.4,688.73 L581.8,688.6 L582.2,688.4 L582.6,688.14 L583,687.84 L583.4,687.49 L583.8,687.12 L584.2,686.73 L584.6,686.34 L585,685.95 L585.4,685.59 L585.8,685.25 L586.2,684.96 L586.6,684.73 L587,684.55 L587.4,684.44 L587.8,684.4 L588.2,684.43 L588.6,684.53 L589,684.7 L598,688.8" fill="none" stroke="#1aa6a6" stroke-width="2" stroke-linejoin="round"/>
<path d="M604.6,688.8 L596.6,692.6 L599,688.8 L596.6,685 Z" fill="#1aa6a6"/>
<text x="550.6" y="677.6" font-family="Liberation Sans, sans-serif" font-size="11.6" fill="#231f20"><tspan font-weight="bold">q</tspan><tspan font-size="8.4" dy="2.6">||</tspan></text>
<path d="M514.9,686 L514.52,686.4 L514.15,686.8 L513.81,687.2 L513.49,687.6 L513.22,688 L513,688.4 L512.84,688.8 L512.74,689.2 L512.7,689.6 L512.73,690 L512.82,690.4 L512.98,690.8 L513.19,691.2 L513.46,691.6 L513.77,692 L514.11,692.4 L514.47,692.8 L514.85,693.2 L515.23,693.6 L515.6,694 L515.95,694.4 L516.27,694.8 L516.55,695.2 L516.77,695.6 L516.94,696 L517.05,696.4 L517.1,696.8 L517.08,697.2 L516.99,697.6 L516.84,698 L516.64,698.4 L516.38,698.8 L516.07,699.2 L515.74,699.6 L515.37,700 L515,700.4 L514.61,700.8" fill="none" stroke="#1aa6a6" stroke-width="2" stroke-linecap="round"/>
<path d="M517.02,741 L516.89,741.4 L516.69,741.8 L516.45,742.2 L516.15,742.6 L515.82,743 L515.47,743.4 L515.09,743.8 L514.71,744.2 L514.33,744.6 L513.98,745 L513.65,745.4 L513.35,745.8 L513.11,746.2 L512.91,746.6 L512.78,747 L512.71,747.4 L512.71,747.8 L512.77,748.2 L512.89,748.6 L513.08,749 L513.32,749.4 L513.61,749.8 L513.93,750.2 L514.29,750.6 L514.66,751 L515.04,751.4 L515.42,751.8 L515.78,752.2 L516.11,752.6 L516.41,753 L516.67,753.4 L516.87,753.8 L517.01,754.2 L517.08,754.6 L517.1,755 L517.04,755.4 L516.93,755.8 L516.75,756.2 L516.51,756.6 L516.23,757 L515.91,757.4 L515.56,757.8 L515.19,758.2 L514.8,758.6 L514.43,759 L514.06,759.4 L513.73,759.8 L513.42,760.2 L513.16,760.6 L512.96,761 L512.81,761.4 L512.72,761.8 L512.7,762.2 L512.75,762.6 L512.86,763 L513.03,763.4 L513.25,763.8 L513.53,764.2 L513.85,764.6 L514.2,765 L514.57,765.4 L514.95,765.8 L513.4,767.5" fill="none" stroke="#1aa6a6" stroke-width="2" stroke-linecap="round"/>
<path d="M513.57,702 L513.29,702.4 L513.05,702.8 L512.87,703.2 L512.76,703.6 L512.7,704 L512.72,704.4 L512.79,704.8 L512.93,705.2 L513.13,705.6 L513.39,706 L513.69,706.4 L514.02,706.8 L514.38,707.2 L514.76,707.6 L515.14,708 L515.51,708.4 L515.87,708.8 L516.19,709.2 L516.48,709.6 L516.72,710 L516.91,710.4 L517.03,710.8 L517.09,711.2 L517.09,711.6 L517.02,712 L516.89,712.4 L516.69,712.8 L516.45,713.2 L516.15,713.6 L515.82,714 L515.47,714.4 L515.09,714.8 L514.71,715.2 L514.33,715.6 L513.98,716 L513.65,716.4 L513.35,716.8 L513.11,717.2 L512.91,717.6 L512.78,718 L512.71,718.4 L512.71,718.8 L512.77,719.2 L512.89,719.6 L513.08,720 L513.32,720.4 L513.61,720.8 L513.93,721.2 L514.29,721.6 L514.66,722 L515.04,722.4 L515.42,722.8 L515.78,723.2 L516.11,723.6 L516.41,724 L516.67,724.4 L516.87,724.8 L517.01,725.2 L517.08,725.6 L517.1,726 L517.04,726.4 L516.93,726.8 L516.75,727.2 L516.51,727.6 L516.23,728 L515.91,728.4 L515.56,728.8 L515.19,729.2 L514.8,729.6 L514.43,730 L514.06,730.4 L513.73,730.8 L513.42,731.2 L513.16,731.6 L512.96,732 L512.81,732.4 L512.72,732.8 L512.7,733.2 L512.75,733.6 L512.86,734 L513.03,734.4 L513.25,734.8 L513.53,735.2 L513.85,735.6 L514.2,736 L514.57,736.4 L514.95,736.8 L515.33,737.2 L515.69,737.6 L516.03,738 L516.34,738.4 L516.61,738.8 L516.82,739.2 L516.98,739.6 L517.07,740" fill="none" stroke="#1aa6a6" stroke-width="1.9" stroke-dasharray="1.1,1.3" stroke-opacity="0.9"/>
<path d="M513.2,774.2 L509.4,766.2 L513.2,768.6 L517,766.2 Z" fill="#1aa6a6"/>
<line x1="514.8" y1="683.9" x2="514.8" y2="739.4" stroke="#000" stroke-width="2.1" stroke-dasharray="7.8,7.6"/>
<path d="M507.8,705.6 L504.2,705.6 Q502.2,705.6 502.2,707.6 L502.2,719.2 Q502.2,721.4 500,721.4 L496.2,721.4 M500,721.4 Q502.2,721.4 502.2,723.6 L502.2,737.2 Q502.2,739.2 504.2,739.2 L507.8,739.2" fill="none" stroke="#000" stroke-width="1.3"/>
<text x="436.4" y="725.8" font-family="Liberation Sans, sans-serif" font-size="11.6" text-anchor="start" font-weight="normal" font-style="normal" fill="#231f20" >Uncertainty</text>
<text x="522.4" y="724.2" font-family="Liberation Sans, sans-serif" font-size="11.6" fill="#231f20"><tspan font-weight="bold">q</tspan></text>
<path d="M531.8,722.6 L531.8,727.4 M529.4,727.4 L534.2,727.4" stroke="#231f20" stroke-width="0.8" fill="none"/>
</svg></body></html>
